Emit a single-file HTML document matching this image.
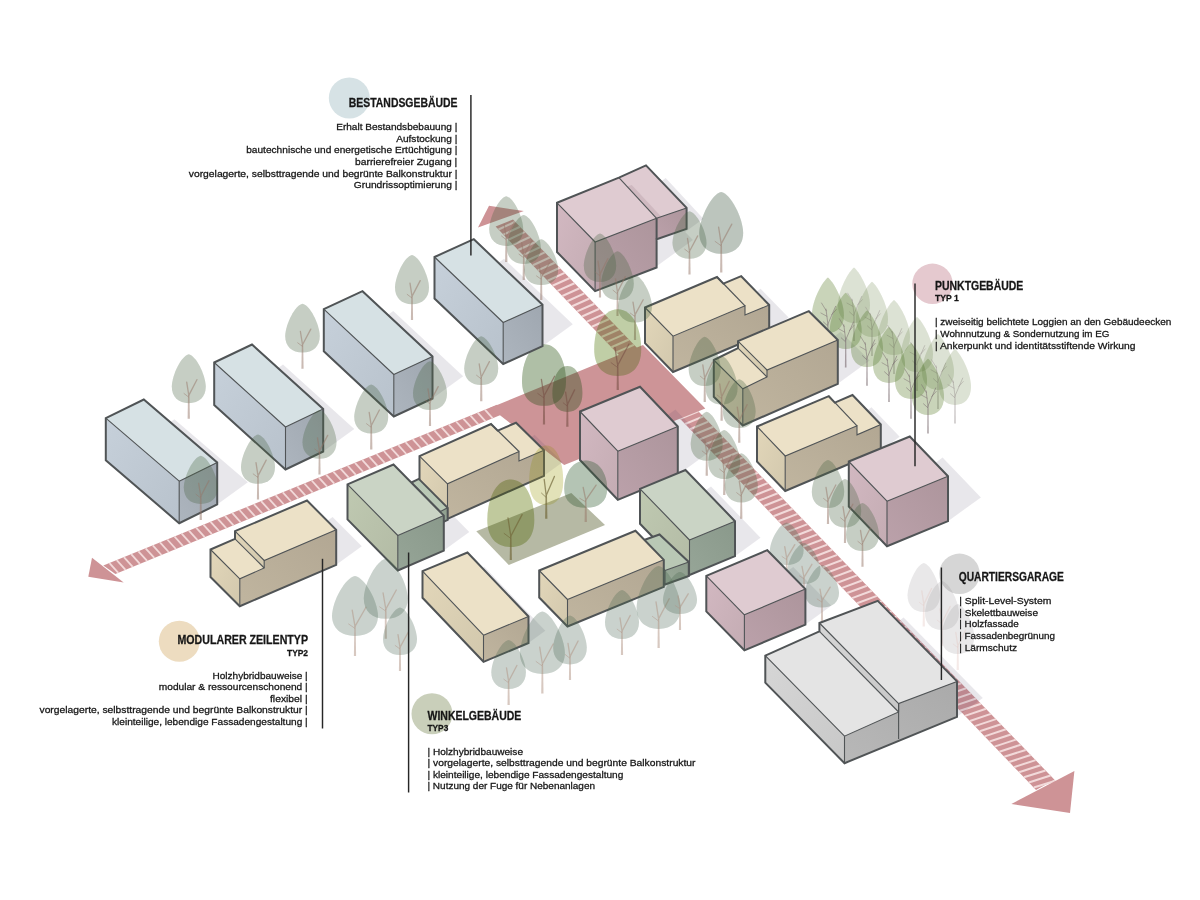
<!DOCTYPE html>
<html><head><meta charset="utf-8"><title>Axonometrie</title>
<style>html,body{margin:0;padding:0;background:#fff;}body{width:1200px;height:900px;overflow:hidden;}svg{display:block;}text{font-family:"Liberation Sans",sans-serif;fill:#161616;stroke:#161616;stroke-width:0.28px;}.t{font-weight:bold;font-size:12.6px;}.s{font-weight:bold;font-size:9.2px;}.b{font-size:9.8px;}</style></head><body>
<svg width="1200" height="900" viewBox="0 0 1200 900">
<rect width="1200" height="900" fill="#ffffff"/>
<defs>
<linearGradient id="gl-blue" x1="0" y1="0" x2="1" y2="1"><stop offset="0" stop-color="#c6d0da"/><stop offset="1" stop-color="#b8c2cc"/></linearGradient>
<linearGradient id="gr-blue" x1="0" y1="1" x2="1" y2="0"><stop offset="0" stop-color="#adb5be"/><stop offset="1" stop-color="#9fa7b0"/></linearGradient>
<linearGradient id="gl-pink" x1="0" y1="0" x2="1" y2="1"><stop offset="0" stop-color="#d2b8c1"/><stop offset="1" stop-color="#c4acb3"/></linearGradient>
<linearGradient id="gr-pink" x1="0" y1="1" x2="1" y2="0"><stop offset="0" stop-color="#bba1aa"/><stop offset="1" stop-color="#ad959c"/></linearGradient>
<linearGradient id="gl-beige" x1="0" y1="0" x2="1" y2="1"><stop offset="0" stop-color="#e2d6b9"/><stop offset="1" stop-color="#d2c8ad"/></linearGradient>
<linearGradient id="gr-beige" x1="0" y1="1" x2="1" y2="0"><stop offset="0" stop-color="#c0b59f"/><stop offset="1" stop-color="#b2a793"/></linearGradient>
<linearGradient id="gl-green" x1="0" y1="0" x2="1" y2="1"><stop offset="0" stop-color="#bfc9b1"/><stop offset="1" stop-color="#b3bba5"/></linearGradient>
<linearGradient id="gr-green" x1="0" y1="1" x2="1" y2="0"><stop offset="0" stop-color="#96a597"/><stop offset="1" stop-color="#8a998b"/></linearGradient>
<linearGradient id="gl-conn" x1="0" y1="0" x2="1" y2="1"><stop offset="0" stop-color="#afbeab"/><stop offset="1" stop-color="#a3b29f"/></linearGradient>
<linearGradient id="gr-conn" x1="0" y1="1" x2="1" y2="0"><stop offset="0" stop-color="#99aa98"/><stop offset="1" stop-color="#8d9c8c"/></linearGradient>
<linearGradient id="gl-gray" x1="0" y1="0" x2="1" y2="1"><stop offset="0" stop-color="#d6d6d6"/><stop offset="1" stop-color="#c8c8c8"/></linearGradient>
<linearGradient id="gr-gray" x1="0" y1="1" x2="1" y2="0"><stop offset="0" stop-color="#b8b8b8"/><stop offset="1" stop-color="#aaaaaa"/></linearGradient>
</defs>
<circle cx="349.3" cy="98" r="20.5" fill="#d6e2e5"/>
<circle cx="932.5" cy="283.8" r="20.2" fill="#e5c9cf"/>
<circle cx="179.3" cy="641.3" r="20.5" fill="#eddcc0"/>
<circle cx="432" cy="713.8" r="20.5" fill="#c9cfba"/>
<circle cx="959.5" cy="573.8" r="20.2" fill="#d6d6d6"/>
<polygon points="495.6,226.5 513.0,219.5 1054.5,779.7 1036.0,789.9" fill="#ce9396"/>
<line x1="498.5" y1="229.5" x2="515.1" y2="221.7" stroke="#f2dada" stroke-width="2.05"/>
<line x1="503.4" y1="234.6" x2="520.1" y2="226.8" stroke="#f2dada" stroke-width="2.05"/>
<line x1="508.3" y1="239.7" x2="525.0" y2="231.9" stroke="#f2dada" stroke-width="2.05"/>
<line x1="513.2" y1="244.8" x2="530.0" y2="237.0" stroke="#f2dada" stroke-width="2.05"/>
<line x1="518.1" y1="250.0" x2="534.9" y2="242.2" stroke="#f2dada" stroke-width="2.05"/>
<line x1="523.0" y1="255.1" x2="539.9" y2="247.3" stroke="#f2dada" stroke-width="2.05"/>
<line x1="527.9" y1="260.2" x2="544.8" y2="252.4" stroke="#f2dada" stroke-width="2.05"/>
<line x1="532.9" y1="265.3" x2="549.8" y2="257.5" stroke="#f2dada" stroke-width="2.05"/>
<line x1="537.8" y1="270.4" x2="554.7" y2="262.7" stroke="#f2dada" stroke-width="2.05"/>
<line x1="542.7" y1="275.6" x2="559.7" y2="267.8" stroke="#f2dada" stroke-width="2.05"/>
<line x1="547.6" y1="280.7" x2="564.6" y2="272.9" stroke="#f2dada" stroke-width="2.05"/>
<line x1="552.5" y1="285.8" x2="569.6" y2="278.0" stroke="#f2dada" stroke-width="2.05"/>
<line x1="557.4" y1="290.9" x2="574.5" y2="283.2" stroke="#f2dada" stroke-width="2.05"/>
<line x1="562.3" y1="296.0" x2="579.5" y2="288.3" stroke="#f2dada" stroke-width="2.05"/>
<line x1="567.2" y1="301.2" x2="584.4" y2="293.4" stroke="#f2dada" stroke-width="2.05"/>
<line x1="572.1" y1="306.3" x2="589.4" y2="298.5" stroke="#f2dada" stroke-width="2.05"/>
<line x1="577.1" y1="311.4" x2="594.4" y2="303.7" stroke="#f2dada" stroke-width="2.05"/>
<line x1="582.0" y1="316.5" x2="599.3" y2="308.8" stroke="#f2dada" stroke-width="2.05"/>
<line x1="586.9" y1="321.6" x2="604.3" y2="313.9" stroke="#f2dada" stroke-width="2.05"/>
<line x1="591.8" y1="326.8" x2="609.2" y2="319.0" stroke="#f2dada" stroke-width="2.05"/>
<line x1="596.7" y1="331.9" x2="614.2" y2="324.2" stroke="#f2dada" stroke-width="2.05"/>
<line x1="601.6" y1="337.0" x2="619.1" y2="329.3" stroke="#f2dada" stroke-width="2.05"/>
<line x1="606.5" y1="342.1" x2="624.1" y2="334.4" stroke="#f2dada" stroke-width="2.05"/>
<line x1="611.4" y1="347.2" x2="629.0" y2="339.5" stroke="#f2dada" stroke-width="2.05"/>
<line x1="616.3" y1="352.4" x2="634.0" y2="344.7" stroke="#f2dada" stroke-width="2.05"/>
<line x1="621.2" y1="357.5" x2="638.9" y2="349.8" stroke="#f2dada" stroke-width="2.05"/>
<line x1="626.2" y1="362.6" x2="643.9" y2="354.9" stroke="#f2dada" stroke-width="2.05"/>
<line x1="631.1" y1="367.7" x2="648.9" y2="360.0" stroke="#f2dada" stroke-width="2.05"/>
<line x1="636.0" y1="372.8" x2="653.8" y2="365.2" stroke="#f2dada" stroke-width="2.05"/>
<line x1="640.9" y1="378.0" x2="658.8" y2="370.3" stroke="#f2dada" stroke-width="2.05"/>
<line x1="645.8" y1="383.1" x2="663.7" y2="375.4" stroke="#f2dada" stroke-width="2.05"/>
<line x1="650.7" y1="388.2" x2="668.7" y2="380.5" stroke="#f2dada" stroke-width="2.05"/>
<line x1="655.6" y1="393.3" x2="673.6" y2="385.7" stroke="#f2dada" stroke-width="2.05"/>
<line x1="660.5" y1="398.4" x2="678.6" y2="390.8" stroke="#f2dada" stroke-width="2.05"/>
<line x1="665.4" y1="403.6" x2="683.5" y2="395.9" stroke="#f2dada" stroke-width="2.05"/>
<line x1="670.4" y1="408.7" x2="688.5" y2="401.1" stroke="#f2dada" stroke-width="2.05"/>
<line x1="675.3" y1="413.8" x2="693.4" y2="406.2" stroke="#f2dada" stroke-width="2.05"/>
<line x1="680.2" y1="418.9" x2="698.4" y2="411.3" stroke="#f2dada" stroke-width="2.05"/>
<line x1="685.1" y1="424.0" x2="703.4" y2="416.4" stroke="#f2dada" stroke-width="2.05"/>
<line x1="690.0" y1="429.2" x2="708.3" y2="421.6" stroke="#f2dada" stroke-width="2.05"/>
<line x1="694.9" y1="434.3" x2="713.3" y2="426.7" stroke="#f2dada" stroke-width="2.05"/>
<line x1="699.8" y1="439.4" x2="718.2" y2="431.8" stroke="#f2dada" stroke-width="2.05"/>
<line x1="704.7" y1="444.5" x2="723.2" y2="436.9" stroke="#f2dada" stroke-width="2.05"/>
<line x1="709.6" y1="449.6" x2="728.1" y2="442.1" stroke="#f2dada" stroke-width="2.05"/>
<line x1="714.6" y1="454.8" x2="733.1" y2="447.2" stroke="#f2dada" stroke-width="2.05"/>
<line x1="719.5" y1="459.9" x2="738.1" y2="452.3" stroke="#f2dada" stroke-width="2.05"/>
<line x1="724.4" y1="465.0" x2="743.0" y2="457.4" stroke="#f2dada" stroke-width="2.05"/>
<line x1="729.3" y1="470.1" x2="748.0" y2="462.6" stroke="#f2dada" stroke-width="2.05"/>
<line x1="734.2" y1="475.2" x2="752.9" y2="467.7" stroke="#f2dada" stroke-width="2.05"/>
<line x1="739.1" y1="480.4" x2="757.9" y2="472.8" stroke="#f2dada" stroke-width="2.05"/>
<line x1="744.0" y1="485.5" x2="762.8" y2="478.0" stroke="#f2dada" stroke-width="2.05"/>
<line x1="748.9" y1="490.6" x2="767.8" y2="483.1" stroke="#f2dada" stroke-width="2.05"/>
<line x1="753.8" y1="495.7" x2="772.7" y2="488.2" stroke="#f2dada" stroke-width="2.05"/>
<line x1="758.7" y1="500.8" x2="777.7" y2="493.3" stroke="#f2dada" stroke-width="2.05"/>
<line x1="763.7" y1="506.0" x2="782.7" y2="498.5" stroke="#f2dada" stroke-width="2.05"/>
<line x1="768.6" y1="511.1" x2="787.6" y2="503.6" stroke="#f2dada" stroke-width="2.05"/>
<line x1="773.5" y1="516.2" x2="792.6" y2="508.7" stroke="#f2dada" stroke-width="2.05"/>
<line x1="778.4" y1="521.3" x2="797.5" y2="513.9" stroke="#f2dada" stroke-width="2.05"/>
<line x1="783.3" y1="526.4" x2="802.5" y2="519.0" stroke="#f2dada" stroke-width="2.05"/>
<line x1="788.2" y1="531.6" x2="807.5" y2="524.1" stroke="#f2dada" stroke-width="2.05"/>
<line x1="793.1" y1="536.7" x2="812.4" y2="529.2" stroke="#f2dada" stroke-width="2.05"/>
<line x1="798.0" y1="541.8" x2="817.4" y2="534.4" stroke="#f2dada" stroke-width="2.05"/>
<line x1="802.9" y1="546.9" x2="822.3" y2="539.5" stroke="#f2dada" stroke-width="2.05"/>
<line x1="807.9" y1="552.0" x2="827.3" y2="544.6" stroke="#f2dada" stroke-width="2.05"/>
<line x1="812.8" y1="557.2" x2="832.2" y2="549.8" stroke="#f2dada" stroke-width="2.05"/>
<line x1="817.7" y1="562.3" x2="837.2" y2="554.9" stroke="#f2dada" stroke-width="2.05"/>
<line x1="822.6" y1="567.4" x2="842.2" y2="560.0" stroke="#f2dada" stroke-width="2.05"/>
<line x1="827.5" y1="572.5" x2="847.1" y2="565.1" stroke="#f2dada" stroke-width="2.05"/>
<line x1="832.4" y1="577.6" x2="852.1" y2="570.3" stroke="#f2dada" stroke-width="2.05"/>
<line x1="837.3" y1="582.8" x2="857.0" y2="575.4" stroke="#f2dada" stroke-width="2.05"/>
<line x1="842.2" y1="587.9" x2="862.0" y2="580.5" stroke="#f2dada" stroke-width="2.05"/>
<line x1="847.1" y1="593.0" x2="866.9" y2="585.7" stroke="#f2dada" stroke-width="2.05"/>
<line x1="852.1" y1="598.1" x2="871.9" y2="590.8" stroke="#f2dada" stroke-width="2.05"/>
<line x1="857.0" y1="603.2" x2="876.9" y2="595.9" stroke="#f2dada" stroke-width="2.05"/>
<line x1="861.9" y1="608.4" x2="881.8" y2="601.1" stroke="#f2dada" stroke-width="2.05"/>
<line x1="866.8" y1="613.5" x2="886.8" y2="606.2" stroke="#f2dada" stroke-width="2.05"/>
<line x1="871.7" y1="618.6" x2="891.7" y2="611.3" stroke="#f2dada" stroke-width="2.05"/>
<line x1="876.6" y1="623.7" x2="896.7" y2="616.4" stroke="#f2dada" stroke-width="2.05"/>
<line x1="881.5" y1="628.8" x2="901.7" y2="621.6" stroke="#f2dada" stroke-width="2.05"/>
<line x1="886.4" y1="634.0" x2="906.6" y2="626.7" stroke="#f2dada" stroke-width="2.05"/>
<line x1="891.3" y1="639.1" x2="911.6" y2="631.8" stroke="#f2dada" stroke-width="2.05"/>
<line x1="896.3" y1="644.2" x2="916.5" y2="637.0" stroke="#f2dada" stroke-width="2.05"/>
<line x1="901.2" y1="649.3" x2="921.5" y2="642.1" stroke="#f2dada" stroke-width="2.05"/>
<line x1="906.1" y1="654.4" x2="926.5" y2="647.2" stroke="#f2dada" stroke-width="2.05"/>
<line x1="911.0" y1="659.6" x2="931.4" y2="652.4" stroke="#f2dada" stroke-width="2.05"/>
<line x1="915.9" y1="664.7" x2="936.4" y2="657.5" stroke="#f2dada" stroke-width="2.05"/>
<line x1="920.8" y1="669.8" x2="941.3" y2="662.6" stroke="#f2dada" stroke-width="2.05"/>
<line x1="925.7" y1="674.9" x2="946.3" y2="667.8" stroke="#f2dada" stroke-width="2.05"/>
<line x1="930.6" y1="680.0" x2="951.3" y2="672.9" stroke="#f2dada" stroke-width="2.05"/>
<line x1="935.5" y1="685.2" x2="956.2" y2="678.0" stroke="#f2dada" stroke-width="2.05"/>
<line x1="940.4" y1="690.3" x2="961.2" y2="683.2" stroke="#f2dada" stroke-width="2.05"/>
<line x1="945.4" y1="695.4" x2="966.1" y2="688.3" stroke="#f2dada" stroke-width="2.05"/>
<line x1="950.3" y1="700.5" x2="971.1" y2="693.4" stroke="#f2dada" stroke-width="2.05"/>
<line x1="955.2" y1="705.6" x2="976.1" y2="698.5" stroke="#f2dada" stroke-width="2.05"/>
<line x1="960.1" y1="710.8" x2="981.0" y2="703.7" stroke="#f2dada" stroke-width="2.05"/>
<line x1="965.0" y1="715.9" x2="986.0" y2="708.8" stroke="#f2dada" stroke-width="2.05"/>
<line x1="969.9" y1="721.0" x2="990.9" y2="713.9" stroke="#f2dada" stroke-width="2.05"/>
<line x1="974.8" y1="726.1" x2="995.9" y2="719.1" stroke="#f2dada" stroke-width="2.05"/>
<line x1="979.7" y1="731.2" x2="1000.9" y2="724.2" stroke="#f2dada" stroke-width="2.05"/>
<line x1="984.6" y1="736.4" x2="1005.8" y2="729.3" stroke="#f2dada" stroke-width="2.05"/>
<line x1="989.6" y1="741.5" x2="1010.8" y2="734.5" stroke="#f2dada" stroke-width="2.05"/>
<line x1="994.5" y1="746.6" x2="1015.8" y2="739.6" stroke="#f2dada" stroke-width="2.05"/>
<line x1="999.4" y1="751.7" x2="1020.7" y2="744.7" stroke="#f2dada" stroke-width="2.05"/>
<line x1="1004.3" y1="756.8" x2="1025.7" y2="749.9" stroke="#f2dada" stroke-width="2.05"/>
<line x1="1009.2" y1="762.0" x2="1030.6" y2="755.0" stroke="#f2dada" stroke-width="2.05"/>
<line x1="1014.1" y1="767.1" x2="1035.6" y2="760.1" stroke="#f2dada" stroke-width="2.05"/>
<line x1="1019.0" y1="772.2" x2="1040.6" y2="765.3" stroke="#f2dada" stroke-width="2.05"/>
<line x1="1023.9" y1="777.3" x2="1045.5" y2="770.4" stroke="#f2dada" stroke-width="2.05"/>
<line x1="1028.8" y1="782.4" x2="1050.5" y2="775.5" stroke="#f2dada" stroke-width="2.05"/>
<line x1="1033.8" y1="787.6" x2="1055.5" y2="780.7" stroke="#f2dada" stroke-width="2.05"/>
<polygon points="103.3,565.6 497.0,404.8 506.0,412.8 115.4,574.0" fill="#ce9396"/>
<line x1="109.5" y1="563.1" x2="118.3" y2="572.8" stroke="#f2dada" stroke-width="1.8"/>
<line x1="116.7" y1="560.1" x2="125.5" y2="569.8" stroke="#f2dada" stroke-width="1.8"/>
<line x1="123.9" y1="557.2" x2="132.7" y2="566.8" stroke="#f2dada" stroke-width="1.8"/>
<line x1="131.2" y1="554.2" x2="139.9" y2="563.9" stroke="#f2dada" stroke-width="1.8"/>
<line x1="138.4" y1="551.3" x2="147.1" y2="560.9" stroke="#f2dada" stroke-width="1.8"/>
<line x1="145.6" y1="548.3" x2="154.3" y2="557.9" stroke="#f2dada" stroke-width="1.8"/>
<line x1="152.8" y1="545.4" x2="161.5" y2="555.0" stroke="#f2dada" stroke-width="1.8"/>
<line x1="160.0" y1="542.4" x2="168.7" y2="552.0" stroke="#f2dada" stroke-width="1.8"/>
<line x1="167.3" y1="539.5" x2="175.9" y2="549.0" stroke="#f2dada" stroke-width="1.8"/>
<line x1="174.5" y1="536.5" x2="183.1" y2="546.1" stroke="#f2dada" stroke-width="1.8"/>
<line x1="181.7" y1="533.6" x2="190.3" y2="543.1" stroke="#f2dada" stroke-width="1.8"/>
<line x1="188.9" y1="530.6" x2="197.5" y2="540.1" stroke="#f2dada" stroke-width="1.8"/>
<line x1="196.1" y1="527.7" x2="204.7" y2="537.1" stroke="#f2dada" stroke-width="1.8"/>
<line x1="203.4" y1="524.7" x2="211.9" y2="534.2" stroke="#f2dada" stroke-width="1.8"/>
<line x1="210.6" y1="521.8" x2="219.1" y2="531.2" stroke="#f2dada" stroke-width="1.8"/>
<line x1="217.8" y1="518.8" x2="226.3" y2="528.2" stroke="#f2dada" stroke-width="1.8"/>
<line x1="225.0" y1="515.9" x2="233.5" y2="525.3" stroke="#f2dada" stroke-width="1.8"/>
<line x1="232.2" y1="512.9" x2="240.7" y2="522.3" stroke="#f2dada" stroke-width="1.8"/>
<line x1="239.5" y1="510.0" x2="247.9" y2="519.3" stroke="#f2dada" stroke-width="1.8"/>
<line x1="246.7" y1="507.0" x2="255.1" y2="516.3" stroke="#f2dada" stroke-width="1.8"/>
<line x1="253.9" y1="504.1" x2="262.3" y2="513.4" stroke="#f2dada" stroke-width="1.8"/>
<line x1="261.1" y1="501.1" x2="269.5" y2="510.4" stroke="#f2dada" stroke-width="1.8"/>
<line x1="268.3" y1="498.2" x2="276.7" y2="507.4" stroke="#f2dada" stroke-width="1.8"/>
<line x1="275.6" y1="495.2" x2="283.9" y2="504.5" stroke="#f2dada" stroke-width="1.8"/>
<line x1="282.8" y1="492.3" x2="291.1" y2="501.5" stroke="#f2dada" stroke-width="1.8"/>
<line x1="290.0" y1="489.4" x2="298.3" y2="498.5" stroke="#f2dada" stroke-width="1.8"/>
<line x1="297.2" y1="486.4" x2="305.5" y2="495.6" stroke="#f2dada" stroke-width="1.8"/>
<line x1="304.4" y1="483.5" x2="312.7" y2="492.6" stroke="#f2dada" stroke-width="1.8"/>
<line x1="311.7" y1="480.5" x2="319.9" y2="489.6" stroke="#f2dada" stroke-width="1.8"/>
<line x1="318.9" y1="477.6" x2="327.1" y2="486.6" stroke="#f2dada" stroke-width="1.8"/>
<line x1="326.1" y1="474.6" x2="334.3" y2="483.7" stroke="#f2dada" stroke-width="1.8"/>
<line x1="333.3" y1="471.7" x2="341.5" y2="480.7" stroke="#f2dada" stroke-width="1.8"/>
<line x1="340.5" y1="468.7" x2="348.7" y2="477.7" stroke="#f2dada" stroke-width="1.8"/>
<line x1="347.8" y1="465.8" x2="355.9" y2="474.8" stroke="#f2dada" stroke-width="1.8"/>
<line x1="355.0" y1="462.8" x2="363.1" y2="471.8" stroke="#f2dada" stroke-width="1.8"/>
<line x1="362.2" y1="459.9" x2="370.3" y2="468.8" stroke="#f2dada" stroke-width="1.8"/>
<line x1="369.4" y1="456.9" x2="377.5" y2="465.8" stroke="#f2dada" stroke-width="1.8"/>
<line x1="376.6" y1="454.0" x2="384.7" y2="462.9" stroke="#f2dada" stroke-width="1.8"/>
<line x1="383.9" y1="451.0" x2="391.9" y2="459.9" stroke="#f2dada" stroke-width="1.8"/>
<line x1="391.1" y1="448.1" x2="399.1" y2="456.9" stroke="#f2dada" stroke-width="1.8"/>
<line x1="398.3" y1="445.1" x2="406.3" y2="454.0" stroke="#f2dada" stroke-width="1.8"/>
<line x1="405.5" y1="442.2" x2="413.5" y2="451.0" stroke="#f2dada" stroke-width="1.8"/>
<line x1="412.7" y1="439.2" x2="420.7" y2="448.0" stroke="#f2dada" stroke-width="1.8"/>
<line x1="420.0" y1="436.3" x2="427.9" y2="445.0" stroke="#f2dada" stroke-width="1.8"/>
<line x1="427.2" y1="433.3" x2="435.1" y2="442.1" stroke="#f2dada" stroke-width="1.8"/>
<line x1="434.4" y1="430.4" x2="442.3" y2="439.1" stroke="#f2dada" stroke-width="1.8"/>
<line x1="441.6" y1="427.4" x2="449.5" y2="436.1" stroke="#f2dada" stroke-width="1.8"/>
<line x1="448.8" y1="424.5" x2="456.7" y2="433.2" stroke="#f2dada" stroke-width="1.8"/>
<line x1="456.1" y1="421.5" x2="463.9" y2="430.2" stroke="#f2dada" stroke-width="1.8"/>
<line x1="463.3" y1="418.6" x2="471.1" y2="427.2" stroke="#f2dada" stroke-width="1.8"/>
<line x1="470.5" y1="415.6" x2="478.3" y2="424.3" stroke="#f2dada" stroke-width="1.8"/>
<line x1="477.7" y1="412.7" x2="485.5" y2="421.3" stroke="#f2dada" stroke-width="1.8"/>
<line x1="484.9" y1="409.7" x2="492.7" y2="418.3" stroke="#f2dada" stroke-width="1.8"/>
<polygon points="88.3,576.7 92.0,557.8 123.7,582.5" fill="#ce9396"/>
<polygon points="478.0,227.6 489.0,205.8 523.8,211.1" fill="#ce9396"/>
<polygon points="1070.0,813.0 1074.4,771.0 1011.4,804.0" fill="#ce9396"/>
<polygon points="489.2,408.3 643.0,345.0 705.3,408.5 564.2,465.0 500.0,415.3" fill="#cd9497"/>
<polygon points="476.3,531.3 571.3,493.0 605.0,525.0 508.8,565.0" fill="#b6b9a4"/>
<g opacity="0.115">
<polygon points="105.8,460.2 143.8,441.5 174.4,419.2 247.9,482.2 217.2,504.5 179.2,523.2" fill="#43355c"/>
<polygon points="214.2,405.0 252.0,387.0 283.0,364.5 354.3,429.0 323.2,451.5 285.5,469.5" fill="#43355c"/>
<polygon points="323.8,351.2 362.5,333.2 393.2,311.0 463.2,376.2 432.5,398.5 393.8,416.5" fill="#43355c"/>
<polygon points="434.5,298.5 473.8,280.8 504.0,258.8 572.8,324.3 542.5,346.2 503.2,364.0" fill="#43355c"/>
<polygon points="618.9,204.6 646.0,192.4 665.7,178.1 703.4,218.8 683.7,233.1 656.6,245.3" fill="#43355c"/>
<polygon points="557.0,252.0 618.9,226.8 654.8,200.7 692.9,239.9 657.0,266.0 595.1,291.2" fill="#43355c"/>
<polygon points="645.0,343.2 717.0,312.8 743.1,293.8 771.1,322.6 745.0,341.5 673.0,372.0" fill="#43355c"/>
<polygon points="717.0,312.8 741.2,302.8 760.6,288.7 788.6,317.5 769.2,331.5 745.0,341.5" fill="#43355c"/>
<polygon points="738.0,385.0 808.8,355.0 840.7,331.8 869.7,360.6 837.8,383.8 767.0,413.8" fill="#43355c"/>
<polygon points="713.8,396.8 738.0,385.0 764.8,365.5 793.8,394.3 767.0,413.8 742.8,425.5" fill="#43355c"/>
<polygon points="757.0,461.5 828.8,431.2 854.3,412.7 882.5,442.2 857.0,460.8 785.2,491.0" fill="#43355c"/>
<polygon points="828.8,431.2 852.5,421.0 871.5,407.2 899.7,436.7 880.8,450.5 857.0,460.8" fill="#43355c"/>
<polygon points="848.8,506.5 909.8,481.5 942.6,457.6 980.9,497.4 948.0,521.2 887.0,546.2" fill="#43355c"/>
<polygon points="580.0,460.0 640.0,435.3 675.4,409.6 713.2,449.3 677.8,475.0 617.8,499.8" fill="#43355c"/>
<polygon points="640.0,523.8 685.5,505.0 711.0,486.4 760.5,537.7 735.0,556.2 689.5,575.0" fill="#43355c"/>
<polygon points="539.2,597.5 635.5,557.8 655.2,543.4 683.5,572.4 663.8,586.8 567.5,626.5" fill="#43355c"/>
<polygon points="706.3,611.4 767.3,585.7 793.2,566.9 831.3,605.8 805.4,624.6 744.4,650.3" fill="#43355c"/>
<polygon points="419.5,491.2 491.0,459.0 516.5,440.4 544.5,467.9 519.0,486.5 447.5,518.8" fill="#43355c"/>
<polygon points="491.0,459.0 516.0,448.2 534.6,434.7 562.6,462.2 544.0,475.8 519.0,486.5" fill="#43355c"/>
<polygon points="347.5,519.4 393.5,499.5 419.1,480.9 469.3,532.1 443.8,550.6 397.8,570.5" fill="#43355c"/>
<polygon points="422.5,597.8 467.5,579.0 484.3,566.8 545.3,630.8 528.5,643.0 483.5,661.8" fill="#43355c"/>
<polygon points="235.0,566.2 307.0,535.5 332.6,517.0 361.8,546.2 336.2,564.8 264.2,595.5" fill="#43355c"/>
<polygon points="210.5,577.0 235.0,566.2 255.1,551.7 284.3,580.9 264.2,595.5 239.8,606.2" fill="#43355c"/>
<polygon points="819.4,658.4 877.8,636.2 903.6,617.4 982.8,698.0 957.0,716.8 898.6,739.0" fill="#43355c"/>
<polygon points="765.3,682.6 819.4,658.4 839.1,644.1 918.3,724.7 898.6,739.0 844.5,763.2" fill="#43355c"/>
</g>
<path d="M188.8,354.2 C195.9,355.5 205.4,374.3 205.8,386.6 C205.8,396.9 199.3,403.2 188.8,403.2 C178.2,403.2 171.8,396.9 171.8,386.6 C172.1,374.3 181.6,355.5 188.8,354.2Z" fill="rgb(220,221,220)" style="mix-blend-mode:multiply"/>
<path d="M188.8,354.2 C195.9,355.5 205.4,374.3 205.8,386.6 C205.8,396.9 199.3,403.2 188.8,403.2 C178.2,403.2 171.8,396.9 171.8,386.6 C172.1,374.3 181.6,355.5 188.8,354.2Z" fill="rgba(110,150,100,0.20)"/>
<polygon points="187.6,418.8 189.9,418.8 189.5,395.4 188.0,395.4" fill="rgba(150,118,104,0.5)"/>
<path d="M188.8,395.4 L186.7,382.2 M188.8,395.4 L196.9,379.7" stroke="rgba(150,118,104,0.5)" stroke-width="1.3" fill="none" stroke-linecap="round"/>
<path d="M188.4,396.9 L184.0,393.5" stroke="rgba(150,118,104,0.5)" stroke-width="0.9" fill="none" stroke-linecap="round"/>
<path d="M302.5,303.8 C309.7,305.0 319.4,323.7 319.8,335.9 C319.8,346.2 313.2,352.5 302.5,352.5 C291.8,352.5 285.2,346.2 285.2,335.9 C285.6,323.7 295.3,305.0 302.5,303.8Z" fill="rgb(220,221,220)" style="mix-blend-mode:multiply"/>
<path d="M302.5,303.8 C309.7,305.0 319.4,323.7 319.8,335.9 C319.8,346.2 313.2,352.5 302.5,352.5 C291.8,352.5 285.2,346.2 285.2,335.9 C285.6,323.7 295.3,305.0 302.5,303.8Z" fill="rgba(110,150,100,0.20)"/>
<polygon points="301.4,368.8 303.6,368.8 303.2,344.7 301.8,344.7" fill="rgba(150,118,104,0.5)"/>
<path d="M302.5,344.7 L300.4,331.5 M302.5,344.7 L310.8,329.1" stroke="rgba(150,118,104,0.5)" stroke-width="1.3" fill="none" stroke-linecap="round"/>
<path d="M302.2,346.2 L297.7,342.8" stroke="rgba(150,118,104,0.5)" stroke-width="0.9" fill="none" stroke-linecap="round"/>
<path d="M412.0,255.0 C419.1,256.2 428.7,275.2 429.0,287.5 C429.0,297.8 422.5,304.2 412.0,304.2 C401.5,304.2 395.0,297.8 395.0,287.5 C395.3,275.2 404.9,256.2 412.0,255.0Z" fill="rgb(220,221,220)" style="mix-blend-mode:multiply"/>
<path d="M412.0,255.0 C419.1,256.2 428.7,275.2 429.0,287.5 C429.0,297.8 422.5,304.2 412.0,304.2 C401.5,304.2 395.0,297.8 395.0,287.5 C395.3,275.2 404.9,256.2 412.0,255.0Z" fill="rgba(110,150,100,0.20)"/>
<polygon points="410.9,320.0 413.1,320.0 412.7,296.4 411.3,296.4" fill="rgba(150,118,104,0.5)"/>
<path d="M412.0,296.4 L410.0,283.1 M412.0,296.4 L420.2,280.6" stroke="rgba(150,118,104,0.5)" stroke-width="1.3" fill="none" stroke-linecap="round"/>
<path d="M411.7,297.8 L407.2,294.4" stroke="rgba(150,118,104,0.5)" stroke-width="0.9" fill="none" stroke-linecap="round"/>
<path d="M506.2,196.2 C513.4,197.5 522.9,216.6 523.2,229.1 C523.2,239.5 516.8,246.0 506.2,246.0 C495.7,246.0 489.2,239.5 489.2,229.1 C489.6,216.6 499.1,197.5 506.2,196.2Z" fill="rgb(220,221,220)" style="mix-blend-mode:multiply"/>
<path d="M506.2,196.2 C513.4,197.5 522.9,216.6 523.2,229.1 C523.2,239.5 516.8,246.0 506.2,246.0 C495.7,246.0 489.2,239.5 489.2,229.1 C489.6,216.6 499.1,197.5 506.2,196.2Z" fill="rgba(110,150,100,0.20)"/>
<polygon points="505.1,262.0 507.4,262.0 507.0,238.0 505.5,238.0" fill="rgba(150,118,104,0.5)"/>
<path d="M506.2,238.0 L504.2,224.6 M506.2,238.0 L514.4,222.1" stroke="rgba(150,118,104,0.5)" stroke-width="1.3" fill="none" stroke-linecap="round"/>
<path d="M505.9,239.5 L501.5,236.0" stroke="rgba(150,118,104,0.5)" stroke-width="0.9" fill="none" stroke-linecap="round"/>
<path d="M523.8,215.0 C530.9,216.2 540.4,235.1 540.8,247.3 C540.8,257.6 534.3,264.0 523.8,264.0 C513.2,264.0 506.8,257.6 506.8,247.3 C507.1,235.1 516.6,216.2 523.8,215.0Z" fill="rgb(220,221,220)" style="mix-blend-mode:multiply"/>
<path d="M523.8,215.0 C530.9,216.2 540.4,235.1 540.8,247.3 C540.8,257.6 534.3,264.0 523.8,264.0 C513.2,264.0 506.8,257.6 506.8,247.3 C507.1,235.1 516.6,216.2 523.8,215.0Z" fill="rgba(110,150,100,0.20)"/>
<polygon points="522.6,280.0 524.9,280.0 524.5,256.2 523.0,256.2" fill="rgba(150,118,104,0.5)"/>
<path d="M523.8,256.2 L521.7,242.9 M523.8,256.2 L531.9,240.5" stroke="rgba(150,118,104,0.5)" stroke-width="1.3" fill="none" stroke-linecap="round"/>
<path d="M523.5,257.6 L519.0,254.2" stroke="rgba(150,118,104,0.5)" stroke-width="0.9" fill="none" stroke-linecap="round"/>
<path d="M541.2,239.2 C548.4,240.4 557.9,258.0 558.2,269.4 C558.2,279.1 551.8,285.0 541.2,285.0 C530.7,285.0 524.2,279.1 524.2,269.4 C524.6,258.0 534.1,240.4 541.2,239.2Z" fill="rgb(220,221,220)" style="mix-blend-mode:multiply"/>
<path d="M541.2,239.2 C548.4,240.4 557.9,258.0 558.2,269.4 C558.2,279.1 551.8,285.0 541.2,285.0 C530.7,285.0 524.2,279.1 524.2,269.4 C524.6,258.0 534.1,240.4 541.2,239.2Z" fill="rgba(110,150,100,0.20)"/>
<polygon points="540.1,300.0 542.4,300.0 542.0,277.7 540.5,277.7" fill="rgba(150,118,104,0.5)"/>
<path d="M541.2,277.7 L539.2,265.3 M541.2,277.7 L549.4,263.0" stroke="rgba(150,118,104,0.5)" stroke-width="1.3" fill="none" stroke-linecap="round"/>
<path d="M541.0,279.1 L536.5,275.9" stroke="rgba(150,118,104,0.5)" stroke-width="0.9" fill="none" stroke-linecap="round"/>
<path d="M544.0,344.3 C558.5,344.3 566.0,362.8 566.0,381.2 C566.0,397.2 557.6,405.8 544.0,405.8 C530.4,405.8 522.0,397.2 522.0,381.2 C522.0,362.8 529.5,344.3 544.0,344.3Z" fill="rgb(196,205,189)" style="mix-blend-mode:multiply"/>
<path d="M544.0,344.3 C558.5,344.3 566.0,362.8 566.0,381.2 C566.0,397.2 557.6,405.8 544.0,405.8 C530.4,405.8 522.0,397.2 522.0,381.2 C522.0,362.8 529.5,344.3 544.0,344.3Z" fill="rgba(95,135,75,0.20)"/>
<polygon points="542.9,424.4 545.1,424.4 544.7,396.0 543.3,396.0" fill="rgba(120,80,70,0.6)"/>
<path d="M544.0,396.0 L541.4,379.4 M544.0,396.0 L554.6,376.3" stroke="rgba(120,80,70,0.6)" stroke-width="1.3" fill="none" stroke-linecap="round"/>
<path d="M543.7,397.8 L537.8,393.5" stroke="rgba(120,80,70,0.6)" stroke-width="0.9" fill="none" stroke-linecap="round"/>
<path d="M567.4,366.0 C577.3,366.0 582.4,379.8 582.4,393.6 C582.4,405.6 576.7,412.0 567.4,412.0 C558.1,412.0 552.4,405.6 552.4,393.6 C552.4,379.8 557.5,366.0 567.4,366.0Z" fill="rgb(196,205,189)" style="mix-blend-mode:multiply"/>
<path d="M567.4,366.0 C577.3,366.0 582.4,379.8 582.4,393.6 C582.4,405.6 576.7,412.0 567.4,412.0 C558.1,412.0 552.4,405.6 552.4,393.6 C552.4,379.8 557.5,366.0 567.4,366.0Z" fill="rgba(95,135,75,0.20)"/>
<polygon points="566.2,426.7 568.5,426.7 568.1,404.6 566.7,404.6" fill="rgba(120,80,70,0.6)"/>
<path d="M567.4,404.6 L565.6,392.2 M567.4,404.6 L574.6,389.9" stroke="rgba(120,80,70,0.6)" stroke-width="1.3" fill="none" stroke-linecap="round"/>
<path d="M567.1,406.0 L563.2,402.8" stroke="rgba(120,80,70,0.6)" stroke-width="0.9" fill="none" stroke-linecap="round"/>
<path d="M706.7,411.7 C713.4,412.9 722.4,431.8 722.7,444.1 C722.7,454.4 716.6,460.8 706.7,460.8 C696.8,460.8 690.7,454.4 690.7,444.1 C691.0,431.8 700.0,412.9 706.7,411.7Z" fill="rgb(220,221,220)" style="mix-blend-mode:multiply"/>
<path d="M706.7,411.7 C713.4,412.9 722.4,431.8 722.7,444.1 C722.7,454.4 716.6,460.8 706.7,460.8 C696.8,460.8 690.7,454.4 690.7,444.1 C691.0,431.8 700.0,412.9 706.7,411.7Z" fill="rgba(110,150,100,0.20)"/>
<polygon points="705.6,475.8 707.9,475.8 707.4,452.9 706.0,452.9" fill="rgba(150,118,104,0.5)"/>
<path d="M706.7,452.9 L704.8,439.7 M706.7,452.9 L714.4,437.2" stroke="rgba(150,118,104,0.5)" stroke-width="1.3" fill="none" stroke-linecap="round"/>
<path d="M706.4,454.4 L702.2,451.0" stroke="rgba(150,118,104,0.5)" stroke-width="0.9" fill="none" stroke-linecap="round"/>
<path d="M724.2,430.0 C730.9,431.2 739.9,450.1 740.2,462.3 C740.2,472.6 734.1,479.0 724.2,479.0 C714.3,479.0 708.2,472.6 708.2,462.3 C708.5,450.1 717.5,431.2 724.2,430.0Z" fill="rgb(220,221,220)" style="mix-blend-mode:multiply"/>
<path d="M724.2,430.0 C730.9,431.2 739.9,450.1 740.2,462.3 C740.2,472.6 734.1,479.0 724.2,479.0 C714.3,479.0 708.2,472.6 708.2,462.3 C708.5,450.1 717.5,431.2 724.2,430.0Z" fill="rgba(110,150,100,0.20)"/>
<polygon points="723.1,495.0 725.4,495.0 724.9,471.2 723.5,471.2" fill="rgba(150,118,104,0.5)"/>
<path d="M724.2,471.2 L722.3,457.9 M724.2,471.2 L731.9,455.5" stroke="rgba(150,118,104,0.5)" stroke-width="1.3" fill="none" stroke-linecap="round"/>
<path d="M723.9,472.6 L719.7,469.2" stroke="rgba(150,118,104,0.5)" stroke-width="0.9" fill="none" stroke-linecap="round"/>
<path d="M741.3,453.3 C748.2,454.5 757.5,473.5 757.8,485.8 C757.8,496.1 751.5,502.5 741.3,502.5 C731.1,502.5 724.8,496.1 724.8,485.8 C725.1,473.5 734.4,454.5 741.3,453.3Z" fill="rgb(220,221,220)" style="mix-blend-mode:multiply"/>
<path d="M741.3,453.3 C748.2,454.5 757.5,473.5 757.8,485.8 C757.8,496.1 751.5,502.5 741.3,502.5 C731.1,502.5 724.8,496.1 724.8,485.8 C725.1,473.5 734.4,454.5 741.3,453.3Z" fill="rgba(110,150,100,0.20)"/>
<polygon points="740.1,518.7 742.4,518.7 742.0,494.6 740.6,494.6" fill="rgba(150,118,104,0.5)"/>
<path d="M741.3,494.6 L739.3,481.3 M741.3,494.6 L749.2,478.9" stroke="rgba(150,118,104,0.5)" stroke-width="1.3" fill="none" stroke-linecap="round"/>
<path d="M741.0,496.1 L736.7,492.7" stroke="rgba(150,118,104,0.5)" stroke-width="0.9" fill="none" stroke-linecap="round"/>
<path d="M786.7,522.5 C793.8,523.6 803.2,539.9 803.6,550.5 C803.6,559.5 797.1,565.0 786.7,565.0 C776.3,565.0 769.9,559.5 769.9,550.5 C770.2,539.9 779.6,523.6 786.7,522.5Z" fill="rgb(225,226,230)" style="mix-blend-mode:multiply"/>
<path d="M786.7,522.5 C793.8,523.6 803.2,539.9 803.6,550.5 C803.6,559.5 797.1,565.0 786.7,565.0 C776.3,565.0 769.9,559.5 769.9,550.5 C770.2,539.9 779.6,523.6 786.7,522.5Z" fill="rgba(110,150,105,0.20)"/>
<polygon points="785.6,581.0 787.9,581.0 787.4,558.2 786.0,558.2" fill="rgba(175,145,130,0.5)"/>
<path d="M786.7,558.2 L784.7,546.7 M786.7,558.2 L794.8,544.6" stroke="rgba(175,145,130,0.5)" stroke-width="1.3" fill="none" stroke-linecap="round"/>
<path d="M786.4,559.5 L782.0,556.5" stroke="rgba(175,145,130,0.5)" stroke-width="0.9" fill="none" stroke-linecap="round"/>
<path d="M804.0,543.0 C810.9,544.0 820.2,559.8 820.5,570.1 C820.5,578.7 814.2,584.0 804.0,584.0 C793.8,584.0 787.5,578.7 787.5,570.1 C787.8,559.8 797.1,544.0 804.0,543.0Z" fill="rgb(225,226,230)" style="mix-blend-mode:multiply"/>
<path d="M804.0,543.0 C810.9,544.0 820.2,559.8 820.5,570.1 C820.5,578.7 814.2,584.0 804.0,584.0 C793.8,584.0 787.5,578.7 787.5,570.1 C787.8,559.8 797.1,544.0 804.0,543.0Z" fill="rgba(110,150,105,0.20)"/>
<polygon points="802.9,600.0 805.1,600.0 804.7,577.4 803.3,577.4" fill="rgba(175,145,130,0.5)"/>
<path d="M804.0,577.4 L802.0,566.4 M804.0,577.4 L811.9,564.3" stroke="rgba(175,145,130,0.5)" stroke-width="1.3" fill="none" stroke-linecap="round"/>
<path d="M803.7,578.7 L799.4,575.8" stroke="rgba(175,145,130,0.5)" stroke-width="0.9" fill="none" stroke-linecap="round"/>
<path d="M822.0,565.0 C829.1,566.1 838.7,582.4 839.0,593.0 C839.0,602.0 832.5,607.5 822.0,607.5 C811.5,607.5 805.0,602.0 805.0,593.0 C805.3,582.4 814.9,566.1 822.0,565.0Z" fill="rgb(225,226,230)" style="mix-blend-mode:multiply"/>
<path d="M822.0,565.0 C829.1,566.1 838.7,582.4 839.0,593.0 C839.0,602.0 832.5,607.5 822.0,607.5 C811.5,607.5 805.0,602.0 805.0,593.0 C805.3,582.4 814.9,566.1 822.0,565.0Z" fill="rgba(110,150,105,0.20)"/>
<polygon points="820.9,621.7 823.1,621.7 822.7,600.7 821.3,600.7" fill="rgba(175,145,130,0.5)"/>
<path d="M822.0,600.7 L820.0,589.2 M822.0,600.7 L830.2,587.1" stroke="rgba(175,145,130,0.5)" stroke-width="1.3" fill="none" stroke-linecap="round"/>
<path d="M821.7,602.0 L817.2,599.0" stroke="rgba(175,145,130,0.5)" stroke-width="0.9" fill="none" stroke-linecap="round"/>
<path d="M854.0,267.6 C858.8,270.9 870.0,289.8 870.0,305.3 C870.0,316.4 863.6,323.0 854.0,323.0 C844.4,323.0 838.0,316.4 838.0,305.3 C838.0,289.8 849.2,270.9 854.0,267.6Z" fill="rgb(246,242,242)" style="mix-blend-mode:multiply"/>
<path d="M854.0,267.6 C858.8,270.9 870.0,289.8 870.0,305.3 C870.0,316.4 863.6,323.0 854.0,323.0 C844.4,323.0 838.0,316.4 838.0,305.3 C838.0,289.8 849.2,270.9 854.0,267.6Z" fill="rgba(120,165,95,0.20)"/>
<polygon points="853.2,341.0 854.8,341.0 854.5,314.1 853.5,314.1" fill="rgba(140,130,130,0.45)"/>
<path d="M854.0,314.1 L852.1,299.2 M854.0,314.1 L861.7,296.4" stroke="rgba(140,130,130,0.45)" stroke-width="0.9" fill="none" stroke-linecap="round"/>
<path d="M853.7,315.8 L849.5,311.9" stroke="rgba(140,130,130,0.45)" stroke-width="0.9" fill="none" stroke-linecap="round"/>
<path d="M852.4,300.8 L847.6,293.1 M857.8,304.7 L862.3,299.7 M853.0,306.4 L847.0,303.1" stroke="rgba(140,130,130,0.45)" stroke-width="0.8" fill="none" stroke-linecap="round"/>
<path d="M872.0,281.8 C876.8,285.1 888.0,303.9 888.0,319.3 C888.0,330.4 881.6,337.0 872.0,337.0 C862.4,337.0 856.0,330.4 856.0,319.3 C856.0,303.9 867.2,285.1 872.0,281.8Z" fill="rgb(246,242,242)" style="mix-blend-mode:multiply"/>
<path d="M872.0,281.8 C876.8,285.1 888.0,303.9 888.0,319.3 C888.0,330.4 881.6,337.0 872.0,337.0 C862.4,337.0 856.0,330.4 856.0,319.3 C856.0,303.9 867.2,285.1 872.0,281.8Z" fill="rgba(120,165,95,0.20)"/>
<polygon points="871.2,356.0 872.8,356.0 872.5,328.2 871.5,328.2" fill="rgba(140,130,130,0.45)"/>
<path d="M872.0,328.2 L870.1,313.3 M872.0,328.2 L879.7,310.5" stroke="rgba(140,130,130,0.45)" stroke-width="0.9" fill="none" stroke-linecap="round"/>
<path d="M871.7,329.8 L867.5,326.0" stroke="rgba(140,130,130,0.45)" stroke-width="0.9" fill="none" stroke-linecap="round"/>
<path d="M870.4,314.9 L865.6,307.2 M875.8,318.8 L880.3,313.8 M871.0,320.4 L865.0,317.1" stroke="rgba(140,130,130,0.45)" stroke-width="0.8" fill="none" stroke-linecap="round"/>
<path d="M894.0,300.0 C898.8,303.3 910.0,322.0 910.0,337.4 C910.0,348.4 903.6,355.0 894.0,355.0 C884.4,355.0 878.0,348.4 878.0,337.4 C878.0,322.0 889.2,303.3 894.0,300.0Z" fill="rgb(246,242,242)" style="mix-blend-mode:multiply"/>
<path d="M894.0,300.0 C898.8,303.3 910.0,322.0 910.0,337.4 C910.0,348.4 903.6,355.0 894.0,355.0 C884.4,355.0 878.0,348.4 878.0,337.4 C878.0,322.0 889.2,303.3 894.0,300.0Z" fill="rgba(120,165,95,0.20)"/>
<polygon points="893.2,374.0 894.8,374.0 894.5,346.2 893.5,346.2" fill="rgba(140,130,130,0.45)"/>
<path d="M894.0,346.2 L892.1,331.4 M894.0,346.2 L901.7,328.6" stroke="rgba(140,130,130,0.45)" stroke-width="0.9" fill="none" stroke-linecap="round"/>
<path d="M893.7,347.8 L889.5,344.0" stroke="rgba(140,130,130,0.45)" stroke-width="0.9" fill="none" stroke-linecap="round"/>
<path d="M892.4,333.0 L887.6,325.3 M897.8,336.9 L902.3,331.9 M893.0,338.5 L887.0,335.2" stroke="rgba(140,130,130,0.45)" stroke-width="0.8" fill="none" stroke-linecap="round"/>
<path d="M917.0,317.0 C921.8,320.3 933.0,339.0 933.0,354.4 C933.0,365.4 926.6,372.0 917.0,372.0 C907.4,372.0 901.0,365.4 901.0,354.4 C901.0,339.0 912.2,320.3 917.0,317.0Z" fill="rgb(246,242,242)" style="mix-blend-mode:multiply"/>
<path d="M917.0,317.0 C921.8,320.3 933.0,339.0 933.0,354.4 C933.0,365.4 926.6,372.0 917.0,372.0 C907.4,372.0 901.0,365.4 901.0,354.4 C901.0,339.0 912.2,320.3 917.0,317.0Z" fill="rgba(120,165,95,0.20)"/>
<polygon points="916.2,391.0 917.8,391.0 917.5,363.2 916.5,363.2" fill="rgba(140,130,130,0.45)"/>
<path d="M917.0,363.2 L915.1,348.4 M917.0,363.2 L924.7,345.6" stroke="rgba(140,130,130,0.45)" stroke-width="0.9" fill="none" stroke-linecap="round"/>
<path d="M916.7,364.8 L912.5,361.0" stroke="rgba(140,130,130,0.45)" stroke-width="0.9" fill="none" stroke-linecap="round"/>
<path d="M915.4,350.0 L910.6,342.3 M920.8,353.9 L925.3,348.9 M916.0,355.5 L910.0,352.2" stroke="rgba(140,130,130,0.45)" stroke-width="0.8" fill="none" stroke-linecap="round"/>
<path d="M938.0,334.0 C942.8,337.4 954.0,356.4 954.0,372.1 C954.0,383.3 947.6,390.0 938.0,390.0 C928.4,390.0 922.0,383.3 922.0,372.1 C922.0,356.4 933.2,337.4 938.0,334.0Z" fill="rgb(246,242,242)" style="mix-blend-mode:multiply"/>
<path d="M938.0,334.0 C942.8,337.4 954.0,356.4 954.0,372.1 C954.0,383.3 947.6,390.0 938.0,390.0 C928.4,390.0 922.0,383.3 922.0,372.1 C922.0,356.4 933.2,337.4 938.0,334.0Z" fill="rgba(120,165,95,0.20)"/>
<polygon points="937.2,409.0 938.8,409.0 938.5,381.0 937.5,381.0" fill="rgba(140,130,130,0.45)"/>
<path d="M938.0,381.0 L936.1,365.9 M938.0,381.0 L945.7,363.1" stroke="rgba(140,130,130,0.45)" stroke-width="0.9" fill="none" stroke-linecap="round"/>
<path d="M937.7,382.7 L933.5,378.8" stroke="rgba(140,130,130,0.45)" stroke-width="0.9" fill="none" stroke-linecap="round"/>
<path d="M936.4,367.6 L931.6,359.8 M941.8,371.5 L946.3,366.5 M937.0,373.2 L931.0,369.8" stroke="rgba(140,130,130,0.45)" stroke-width="0.8" fill="none" stroke-linecap="round"/>
<path d="M955.0,349.0 C959.8,352.4 971.0,371.4 971.0,387.1 C971.0,398.3 964.6,405.0 955.0,405.0 C945.4,405.0 939.0,398.3 939.0,387.1 C939.0,371.4 950.2,352.4 955.0,349.0Z" fill="rgb(246,242,242)" style="mix-blend-mode:multiply"/>
<path d="M955.0,349.0 C959.8,352.4 971.0,371.4 971.0,387.1 C971.0,398.3 964.6,405.0 955.0,405.0 C945.4,405.0 939.0,398.3 939.0,387.1 C939.0,371.4 950.2,352.4 955.0,349.0Z" fill="rgba(120,165,95,0.20)"/>
<polygon points="954.2,423.6 955.8,423.6 955.5,396.0 954.5,396.0" fill="rgba(140,130,130,0.45)"/>
<path d="M955.0,396.0 L953.1,380.9 M955.0,396.0 L962.7,378.1" stroke="rgba(140,130,130,0.45)" stroke-width="0.9" fill="none" stroke-linecap="round"/>
<path d="M954.7,397.7 L950.5,393.8" stroke="rgba(140,130,130,0.45)" stroke-width="0.9" fill="none" stroke-linecap="round"/>
<path d="M953.4,382.6 L948.6,374.8 M958.8,386.5 L963.3,381.5 M954.0,388.2 L948.0,384.8" stroke="rgba(140,130,130,0.45)" stroke-width="0.8" fill="none" stroke-linecap="round"/>
<path d="M827.9,277.4 C832.7,280.7 843.9,299.6 843.9,315.2 C843.9,326.3 837.5,333.0 827.9,333.0 C818.3,333.0 811.9,326.3 811.9,315.2 C811.9,299.6 823.1,280.7 827.9,277.4Z" fill="rgb(224,226,212)" style="mix-blend-mode:multiply"/>
<path d="M827.9,277.4 C832.7,280.7 843.9,299.6 843.9,315.2 C843.9,326.3 837.5,333.0 827.9,333.0 C818.3,333.0 811.9,326.3 811.9,315.2 C811.9,299.6 823.1,280.7 827.9,277.4Z" fill="rgba(110,160,80,0.20)"/>
<polygon points="827.1,352.0 828.7,352.0 828.4,324.1 827.4,324.1" fill="rgba(120,105,110,0.6)"/>
<path d="M827.9,324.1 L826.0,309.1 M827.9,324.1 L835.6,306.3" stroke="rgba(120,105,110,0.6)" stroke-width="0.9" fill="none" stroke-linecap="round"/>
<path d="M827.6,325.8 L823.4,321.9" stroke="rgba(120,105,110,0.6)" stroke-width="0.9" fill="none" stroke-linecap="round"/>
<path d="M826.3,310.8 L821.5,303.0 M831.7,314.7 L836.2,309.6 M826.9,316.3 L820.9,313.0" stroke="rgba(120,105,110,0.6)" stroke-width="0.8" fill="none" stroke-linecap="round"/>
<path d="M845.7,292.8 C850.5,296.2 861.7,315.3 861.7,331.0 C861.7,342.3 855.3,349.0 845.7,349.0 C836.1,349.0 829.7,342.3 829.7,331.0 C829.7,315.3 840.9,296.2 845.7,292.8Z" fill="rgb(224,226,212)" style="mix-blend-mode:multiply"/>
<path d="M845.7,292.8 C850.5,296.2 861.7,315.3 861.7,331.0 C861.7,342.3 855.3,349.0 845.7,349.0 C836.1,349.0 829.7,342.3 829.7,331.0 C829.7,315.3 840.9,296.2 845.7,292.8Z" fill="rgba(110,160,80,0.20)"/>
<polygon points="844.9,367.4 846.5,367.4 846.2,340.0 845.2,340.0" fill="rgba(120,105,110,0.6)"/>
<path d="M845.7,340.0 L843.8,324.8 M845.7,340.0 L853.4,322.0" stroke="rgba(120,105,110,0.6)" stroke-width="0.9" fill="none" stroke-linecap="round"/>
<path d="M845.4,341.7 L841.2,337.8" stroke="rgba(120,105,110,0.6)" stroke-width="0.9" fill="none" stroke-linecap="round"/>
<path d="M844.1,326.5 L839.3,318.7 M849.5,330.5 L854.0,325.4 M844.7,332.1 L838.7,328.8" stroke="rgba(120,105,110,0.6)" stroke-width="0.8" fill="none" stroke-linecap="round"/>
<path d="M867.0,310.6 C871.8,314.0 883.0,333.2 883.0,349.0 C883.0,360.2 876.6,367.0 867.0,367.0 C857.4,367.0 851.0,360.2 851.0,349.0 C851.0,333.2 862.2,314.0 867.0,310.6Z" fill="rgb(224,226,212)" style="mix-blend-mode:multiply"/>
<path d="M867.0,310.6 C871.8,314.0 883.0,333.2 883.0,349.0 C883.0,360.2 876.6,367.0 867.0,367.0 C857.4,367.0 851.0,360.2 851.0,349.0 C851.0,333.2 862.2,314.0 867.0,310.6Z" fill="rgba(110,160,80,0.20)"/>
<polygon points="866.2,385.7 867.8,385.7 867.5,358.0 866.5,358.0" fill="rgba(120,105,110,0.6)"/>
<path d="M867.0,358.0 L865.1,342.7 M867.0,358.0 L874.7,339.9" stroke="rgba(120,105,110,0.6)" stroke-width="0.9" fill="none" stroke-linecap="round"/>
<path d="M866.7,359.7 L862.5,355.7" stroke="rgba(120,105,110,0.6)" stroke-width="0.9" fill="none" stroke-linecap="round"/>
<path d="M865.4,344.4 L860.6,336.5 M870.8,348.4 L875.3,343.3 M866.0,350.1 L860.0,346.7" stroke="rgba(120,105,110,0.6)" stroke-width="0.8" fill="none" stroke-linecap="round"/>
<path d="M889.0,327.0 C893.8,330.4 905.0,349.4 905.0,365.1 C905.0,376.3 898.6,383.0 889.0,383.0 C879.4,383.0 873.0,376.3 873.0,365.1 C873.0,349.4 884.2,330.4 889.0,327.0Z" fill="rgb(224,226,212)" style="mix-blend-mode:multiply"/>
<path d="M889.0,327.0 C893.8,330.4 905.0,349.4 905.0,365.1 C905.0,376.3 898.6,383.0 889.0,383.0 C879.4,383.0 873.0,376.3 873.0,365.1 C873.0,349.4 884.2,330.4 889.0,327.0Z" fill="rgba(110,160,80,0.20)"/>
<polygon points="888.2,402.0 889.8,402.0 889.5,374.0 888.5,374.0" fill="rgba(120,105,110,0.6)"/>
<path d="M889.0,374.0 L887.1,358.9 M889.0,374.0 L896.7,356.1" stroke="rgba(120,105,110,0.6)" stroke-width="0.9" fill="none" stroke-linecap="round"/>
<path d="M888.7,375.7 L884.5,371.8" stroke="rgba(120,105,110,0.6)" stroke-width="0.9" fill="none" stroke-linecap="round"/>
<path d="M887.4,360.6 L882.6,352.8 M892.8,364.5 L897.3,359.5 M888.0,366.2 L882.0,362.8" stroke="rgba(120,105,110,0.6)" stroke-width="0.8" fill="none" stroke-linecap="round"/>
<path d="M911.0,343.0 C915.8,346.4 927.0,365.4 927.0,381.1 C927.0,392.3 920.6,399.0 911.0,399.0 C901.4,399.0 895.0,392.3 895.0,381.1 C895.0,365.4 906.2,346.4 911.0,343.0Z" fill="rgb(224,226,212)" style="mix-blend-mode:multiply"/>
<path d="M911.0,343.0 C915.8,346.4 927.0,365.4 927.0,381.1 C927.0,392.3 920.6,399.0 911.0,399.0 C901.4,399.0 895.0,392.3 895.0,381.1 C895.0,365.4 906.2,346.4 911.0,343.0Z" fill="rgba(110,160,80,0.20)"/>
<polygon points="910.2,418.7 911.8,418.7 911.5,390.0 910.5,390.0" fill="rgba(120,105,110,0.6)"/>
<path d="M911.0,390.0 L909.1,374.9 M911.0,390.0 L918.7,372.1" stroke="rgba(120,105,110,0.6)" stroke-width="0.9" fill="none" stroke-linecap="round"/>
<path d="M910.7,391.7 L906.5,387.8" stroke="rgba(120,105,110,0.6)" stroke-width="0.9" fill="none" stroke-linecap="round"/>
<path d="M909.4,376.6 L904.6,368.8 M914.8,380.5 L919.3,375.5 M910.0,382.2 L904.0,378.8" stroke="rgba(120,105,110,0.6)" stroke-width="0.8" fill="none" stroke-linecap="round"/>
<path d="M928.0,358.8 C932.8,362.2 944.0,381.3 944.0,397.0 C944.0,408.3 937.6,415.0 928.0,415.0 C918.4,415.0 912.0,408.3 912.0,397.0 C912.0,381.3 923.2,362.2 928.0,358.8Z" fill="rgb(224,226,212)" style="mix-blend-mode:multiply"/>
<path d="M928.0,358.8 C932.8,362.2 944.0,381.3 944.0,397.0 C944.0,408.3 937.6,415.0 928.0,415.0 C918.4,415.0 912.0,408.3 912.0,397.0 C912.0,381.3 923.2,362.2 928.0,358.8Z" fill="rgba(110,160,80,0.20)"/>
<polygon points="927.2,433.4 928.8,433.4 928.5,406.0 927.5,406.0" fill="rgba(120,105,110,0.6)"/>
<path d="M928.0,406.0 L926.1,390.8 M928.0,406.0 L935.7,388.0" stroke="rgba(120,105,110,0.6)" stroke-width="0.9" fill="none" stroke-linecap="round"/>
<path d="M927.7,407.7 L923.5,403.8" stroke="rgba(120,105,110,0.6)" stroke-width="0.9" fill="none" stroke-linecap="round"/>
<path d="M926.4,392.5 L921.6,384.7 M931.8,396.5 L936.3,391.4 M927.0,398.1 L921.0,394.8" stroke="rgba(120,105,110,0.6)" stroke-width="0.8" fill="none" stroke-linecap="round"/>
<path d="M923.8,563.0 C930.6,564.2 939.7,583.1 940.0,595.3 C940.0,605.6 933.9,612.0 923.8,612.0 C913.7,612.0 907.5,605.6 907.5,595.3 C907.9,583.1 917.0,564.2 923.8,563.0Z" fill="rgb(254,253,254)" style="mix-blend-mode:multiply"/>
<path d="M923.8,563.0 C930.6,564.2 939.7,583.1 940.0,595.3 C940.0,605.6 933.9,612.0 923.8,612.0 C913.7,612.0 907.5,605.6 907.5,595.3 C907.9,583.1 917.0,564.2 923.8,563.0Z" fill="rgba(150,152,150,0.20)"/>
<polygon points="922.6,626.6 924.9,626.6 924.5,604.2 923.1,604.2" fill="rgba(225,195,190,0.35)"/>
<path d="M923.8,604.2 L921.8,590.9 M923.8,604.2 L931.6,588.5" stroke="rgba(225,195,190,0.35)" stroke-width="1.3" fill="none" stroke-linecap="round"/>
<path d="M923.5,605.6 L919.2,602.2" stroke="rgba(225,195,190,0.35)" stroke-width="0.9" fill="none" stroke-linecap="round"/>
<path d="M942.0,581.0 C949.1,582.2 958.7,601.1 959.0,613.3 C959.0,623.6 952.5,630.0 942.0,630.0 C931.5,630.0 925.0,623.6 925.0,613.3 C925.3,601.1 934.9,582.2 942.0,581.0Z" fill="rgb(254,253,254)" style="mix-blend-mode:multiply"/>
<path d="M942.0,581.0 C949.1,582.2 958.7,601.1 959.0,613.3 C959.0,623.6 952.5,630.0 942.0,630.0 C931.5,630.0 925.0,623.6 925.0,613.3 C925.3,601.1 934.9,582.2 942.0,581.0Z" fill="rgba(150,152,150,0.20)"/>
<polygon points="940.9,646.0 943.1,646.0 942.7,622.2 941.3,622.2" fill="rgba(225,195,190,0.35)"/>
<path d="M942.0,622.2 L940.0,608.9 M942.0,622.2 L950.2,606.5" stroke="rgba(225,195,190,0.35)" stroke-width="1.3" fill="none" stroke-linecap="round"/>
<path d="M941.7,623.6 L937.2,620.2" stroke="rgba(225,195,190,0.35)" stroke-width="0.9" fill="none" stroke-linecap="round"/>
<path d="M957.8,604.0 C964.7,605.2 974.0,624.5 974.3,637.0 C974.3,647.5 968.0,654.0 957.8,654.0 C947.6,654.0 941.3,647.5 941.3,637.0 C941.6,624.5 950.9,605.2 957.8,604.0Z" fill="rgb(254,253,254)" style="mix-blend-mode:multiply"/>
<path d="M957.8,604.0 C964.7,605.2 974.0,624.5 974.3,637.0 C974.3,647.5 968.0,654.0 957.8,654.0 C947.6,654.0 941.3,647.5 941.3,637.0 C941.6,624.5 950.9,605.2 957.8,604.0Z" fill="rgba(150,152,150,0.20)"/>
<polygon points="956.6,670.0 958.9,670.0 958.5,646.0 957.1,646.0" fill="rgba(225,195,190,0.35)"/>
<path d="M957.8,646.0 L955.8,632.5 M957.8,646.0 L965.7,630.0" stroke="rgba(225,195,190,0.35)" stroke-width="1.3" fill="none" stroke-linecap="round"/>
<path d="M957.5,647.5 L953.2,644.0" stroke="rgba(225,195,190,0.35)" stroke-width="0.9" fill="none" stroke-linecap="round"/>
<polygon points="105.8,418.2 143.8,399.5 217.2,462.5 179.2,481.2" fill="#d6e1e4"/>
<polygon points="105.8,418.2 179.2,481.2 179.2,523.2 105.8,460.2" fill="url(#gl-blue)"/>
<polygon points="179.2,481.2 217.2,462.5 217.2,504.5 179.2,523.2" fill="url(#gr-blue)"/>
<polyline points="105.8,418.2 179.2,481.2 217.2,462.5" fill="none" stroke="#505456" stroke-width="1.10" stroke-linejoin="round"/>
<line x1="179.2" y1="481.2" x2="179.2" y2="523.2" stroke="#505456" stroke-width="1.10"/>
<polygon points="105.8,418.2 143.8,399.5 217.2,462.5 217.2,504.5 179.2,523.2 105.8,460.2" fill="none" stroke="#505456" stroke-width="2.00" stroke-linejoin="miter"/>
<polygon points="214.2,362.5 252.0,344.5 323.2,409.0 285.5,427.0" fill="#d6e1e4"/>
<polygon points="214.2,362.5 285.5,427.0 285.5,469.5 214.2,405.0" fill="url(#gl-blue)"/>
<polygon points="285.5,427.0 323.2,409.0 323.2,451.5 285.5,469.5" fill="url(#gr-blue)"/>
<polyline points="214.2,362.5 285.5,427.0 323.2,409.0" fill="none" stroke="#505456" stroke-width="1.10" stroke-linejoin="round"/>
<line x1="285.5" y1="427.0" x2="285.5" y2="469.5" stroke="#505456" stroke-width="1.10"/>
<polygon points="214.2,362.5 252.0,344.5 323.2,409.0 323.2,451.5 285.5,469.5 214.2,405.0" fill="none" stroke="#505456" stroke-width="2.00" stroke-linejoin="miter"/>
<polygon points="323.8,309.2 362.5,291.2 432.5,356.5 393.8,374.5" fill="#d6e1e4"/>
<polygon points="323.8,309.2 393.8,374.5 393.8,416.5 323.8,351.2" fill="url(#gl-blue)"/>
<polygon points="393.8,374.5 432.5,356.5 432.5,398.5 393.8,416.5" fill="url(#gr-blue)"/>
<polyline points="323.8,309.2 393.8,374.5 432.5,356.5" fill="none" stroke="#505456" stroke-width="1.10" stroke-linejoin="round"/>
<line x1="393.8" y1="374.5" x2="393.8" y2="416.5" stroke="#505456" stroke-width="1.10"/>
<polygon points="323.8,309.2 362.5,291.2 432.5,356.5 432.5,398.5 393.8,416.5 323.8,351.2" fill="none" stroke="#505456" stroke-width="2.00" stroke-linejoin="miter"/>
<polygon points="434.5,257.0 473.8,239.2 542.5,304.8 503.2,322.5" fill="#d6e1e4"/>
<polygon points="434.5,257.0 503.2,322.5 503.2,364.0 434.5,298.5" fill="url(#gl-blue)"/>
<polygon points="503.2,322.5 542.5,304.8 542.5,346.2 503.2,364.0" fill="url(#gr-blue)"/>
<polyline points="434.5,257.0 503.2,322.5 542.5,304.8" fill="none" stroke="#505456" stroke-width="1.10" stroke-linejoin="round"/>
<line x1="503.2" y1="322.5" x2="503.2" y2="364.0" stroke="#505456" stroke-width="1.10"/>
<polygon points="434.5,257.0 473.8,239.2 542.5,304.8 542.5,346.2 503.2,364.0 434.5,298.5" fill="none" stroke="#505456" stroke-width="2.00" stroke-linejoin="miter"/>
<polygon points="618.9,177.6 646.0,165.4 686.6,207.9 656.6,218.3" fill="#dfcbd1"/>
<polygon points="627.2,186.6 631.7,184.9 661.1,216.6 656.6,218.3" fill="#cfb9c0"/>
<polygon points="557.0,202.8 618.9,177.6 656.6,218.3 595.1,242.0" fill="#dfcbd1"/>
<polygon points="557.0,202.8 595.1,242.0 595.1,291.2 557.0,252.0" fill="url(#gl-pink)"/>
<polygon points="595.1,242.0 656.6,218.3 656.6,267.5 595.1,291.2" fill="url(#gr-pink)"/>
<polygon points="656.6,218.3 686.6,207.9 686.6,228.9 656.6,239.3" fill="url(#gr-pink)"/>
<polyline points="557.0,202.8 595.1,242.0 656.6,218.3 686.6,207.9" fill="none" stroke="#505456" stroke-width="1.10" stroke-linejoin="miter"/>
<polyline points="595.1,242.0 595.1,291.2" fill="none" stroke="#505456" stroke-width="1.10" stroke-linejoin="miter"/>
<polyline points="618.9,177.6 656.6,218.3" fill="none" stroke="#505456" stroke-width="1.10" stroke-linejoin="miter"/>
<polyline points="656.6,218.3 656.6,239.3" fill="none" stroke="#505456" stroke-width="2.00" stroke-linejoin="miter"/>
<polygon points="557.0,202.8 618.9,177.6 646.0,165.4 686.6,207.9 686.6,228.9 656.6,239.3 656.6,267.5 595.1,291.2 557.0,252.0" fill="none" stroke="#505456" stroke-width="2.00" stroke-linejoin="miter"/>
<polygon points="717.0,286.2 741.2,276.2 769.2,305.0 745.0,315.0" fill="#ece1c7"/>
<polygon points="645.0,307.5 717.0,277.0 745.0,305.8 673.0,336.2" fill="#ece1c7"/>
<polygon points="645.0,307.5 673.0,336.2 673.0,372.0 645.0,343.2" fill="url(#gl-beige)"/>
<polygon points="673.0,336.2 745.0,305.8 745.0,315.0 769.2,305.0 769.2,331.5 673.0,372.0" fill="url(#gr-beige)"/>
<polyline points="645.0,307.5 673.0,336.2 745.0,305.8 745.0,315.0 769.2,305.0" fill="none" stroke="#505456" stroke-width="1.10" stroke-linejoin="miter"/>
<polyline points="673.0,336.2 673.0,372.0" fill="none" stroke="#505456" stroke-width="1.10" stroke-linejoin="miter"/>
<polyline points="717.0,277.0 745.0,305.8" fill="none" stroke="#505456" stroke-width="1.20" stroke-linejoin="miter"/>
<polygon points="645.0,307.5 717.0,277.0 723.4,283.6 741.2,276.2 769.2,305.0 769.2,331.5 673.0,372.0 645.0,343.2" fill="none" stroke="#505456" stroke-width="2.00" stroke-linejoin="miter"/>
<polygon points="738.0,341.2 808.8,311.2 837.8,340.0 767.0,370.0" fill="#ece1c7"/>
<polygon points="738.0,341.2 767.0,370.0 767.0,377.0 738.0,348.2" fill="url(#gl-beige)"/>
<polygon points="713.8,360.0 738.0,348.2 767.0,377.0 742.8,388.8" fill="#ece1c7"/>
<polygon points="713.8,360.0 742.8,388.8 742.8,425.5 713.8,396.8" fill="url(#gl-beige)"/>
<polygon points="742.8,388.8 767.0,377.0 767.0,370.0 837.8,340.0 837.8,383.8 742.8,425.5" fill="url(#gr-beige)"/>
<polyline points="738.0,341.2 767.0,370.0 837.8,340.0" fill="none" stroke="#505456" stroke-width="1.10" stroke-linejoin="miter"/>
<polyline points="738.0,348.2 767.0,377.0" fill="none" stroke="#505456" stroke-width="1.10" stroke-linejoin="miter"/>
<polyline points="713.8,360.0 742.8,388.8 767.0,377.0 767.0,370.0" fill="none" stroke="#505456" stroke-width="1.10" stroke-linejoin="miter"/>
<polyline points="742.8,388.8 742.8,425.5" fill="none" stroke="#505456" stroke-width="1.10" stroke-linejoin="miter"/>
<polygon points="713.8,360.0 738.0,348.2 738.0,341.2 808.8,311.2 837.8,340.0 837.8,383.8 742.8,425.5 713.8,396.8" fill="none" stroke="#505456" stroke-width="2.00" stroke-linejoin="miter"/>
<polygon points="828.8,405.2 852.5,395.0 880.8,424.5 857.0,434.8" fill="#ece1c7"/>
<polygon points="757.0,426.5 828.8,396.2 857.0,425.8 785.2,456.0" fill="#ece1c7"/>
<polygon points="757.0,426.5 785.2,456.0 785.2,491.0 757.0,461.5" fill="url(#gl-beige)"/>
<polygon points="785.2,456.0 857.0,425.8 857.0,434.8 880.8,424.5 880.8,450.5 785.2,491.0" fill="url(#gr-beige)"/>
<polyline points="757.0,426.5 785.2,456.0 857.0,425.8 857.0,434.8 880.8,424.5" fill="none" stroke="#505456" stroke-width="1.10" stroke-linejoin="miter"/>
<polyline points="785.2,456.0 785.2,491.0" fill="none" stroke="#505456" stroke-width="1.10" stroke-linejoin="miter"/>
<polyline points="828.8,396.2 857.0,425.8" fill="none" stroke="#505456" stroke-width="1.20" stroke-linejoin="miter"/>
<polygon points="757.0,426.5 828.8,396.2 834.8,402.6 852.5,395.0 880.8,424.5 880.8,450.5 785.2,491.0 757.0,461.5" fill="none" stroke="#505456" stroke-width="2.00" stroke-linejoin="miter"/>
<polygon points="848.8,461.5 909.8,436.5 948.0,476.2 887.0,501.2" fill="#dfcbd1"/>
<polygon points="848.8,461.5 887.0,501.2 887.0,546.2 848.8,506.5" fill="url(#gl-pink)"/>
<polygon points="887.0,501.2 948.0,476.2 948.0,521.2 887.0,546.2" fill="url(#gr-pink)"/>
<polyline points="848.8,461.5 887.0,501.2 948.0,476.2" fill="none" stroke="#505456" stroke-width="1.10" stroke-linejoin="round"/>
<line x1="887.0" y1="501.2" x2="887.0" y2="546.2" stroke="#505456" stroke-width="1.10"/>
<polygon points="848.8,461.5 909.8,436.5 948.0,476.2 948.0,521.2 887.0,546.2 848.8,506.5" fill="none" stroke="#505456" stroke-width="2.00" stroke-linejoin="miter"/>
<polygon points="580.0,411.5 640.0,386.8 677.8,426.5 617.8,451.2" fill="#dfcbd1"/>
<polygon points="580.0,411.5 617.8,451.2 617.8,499.8 580.0,460.0" fill="url(#gl-pink)"/>
<polygon points="617.8,451.2 677.8,426.5 677.8,475.0 617.8,499.8" fill="url(#gr-pink)"/>
<polyline points="580.0,411.5 617.8,451.2 677.8,426.5" fill="none" stroke="#505456" stroke-width="1.10" stroke-linejoin="round"/>
<line x1="617.8" y1="451.2" x2="617.8" y2="499.8" stroke="#505456" stroke-width="1.10"/>
<polygon points="580.0,411.5 640.0,386.8 677.8,426.5 677.8,475.0 617.8,499.8 580.0,460.0" fill="none" stroke="#505456" stroke-width="2.00" stroke-linejoin="miter"/>
<polygon points="640.0,488.8 685.5,470.0 735.0,521.2 689.5,540.0" fill="#cad4c5"/>
<polygon points="640.0,488.8 689.5,540.0 689.5,575.0 640.0,523.8" fill="url(#gl-green)"/>
<polygon points="689.5,540.0 735.0,521.2 735.0,556.2 689.5,575.0" fill="url(#gr-green)"/>
<polyline points="640.0,488.8 689.5,540.0 735.0,521.2" fill="none" stroke="#505456" stroke-width="1.10" stroke-linejoin="round"/>
<line x1="689.5" y1="540.0" x2="689.5" y2="575.0" stroke="#505456" stroke-width="1.10"/>
<polygon points="640.0,488.8 685.5,470.0 735.0,521.2 735.0,556.2 689.5,575.0 640.0,523.8" fill="none" stroke="#505456" stroke-width="2.00" stroke-linejoin="miter"/>
<polygon points="635.8,543.0 659.5,534.5 688.8,562.0 665.0,570.5" fill="#b9c8b5"/>
<polygon points="635.8,543.0 665.0,570.5 665.0,584.5 635.8,557.0" fill="url(#gl-conn)"/>
<polygon points="665.0,570.5 688.8,562.0 688.8,576.0 665.0,584.5" fill="url(#gr-conn)"/>
<polyline points="635.8,543.0 665.0,570.5 688.8,562.0" fill="none" stroke="#505456" stroke-width="1.10" stroke-linejoin="round"/>
<line x1="665.0" y1="570.5" x2="665.0" y2="584.5" stroke="#505456" stroke-width="1.10"/>
<polygon points="635.8,543.0 659.5,534.5 688.8,562.0 688.8,576.0 665.0,584.5 635.8,557.0" fill="none" stroke="#505456" stroke-width="2.00" stroke-linejoin="miter"/>
<polygon points="539.2,570.5 635.5,530.8 663.8,559.8 567.5,599.5" fill="#ece1c7"/>
<polygon points="539.2,570.5 567.5,599.5 567.5,626.5 539.2,597.5" fill="url(#gl-beige)"/>
<polygon points="567.5,599.5 663.8,559.8 663.8,586.8 567.5,626.5" fill="url(#gr-beige)"/>
<polyline points="539.2,570.5 567.5,599.5 663.8,559.8" fill="none" stroke="#505456" stroke-width="1.10" stroke-linejoin="round"/>
<line x1="567.5" y1="599.5" x2="567.5" y2="626.5" stroke="#505456" stroke-width="1.10"/>
<polygon points="539.2,570.5 635.5,530.8 663.8,559.8 663.8,586.8 567.5,626.5 539.2,597.5" fill="none" stroke="#505456" stroke-width="2.00" stroke-linejoin="miter"/>
<polygon points="706.3,575.9 767.3,550.2 805.4,589.1 744.4,614.8" fill="#dfcbd1"/>
<polygon points="706.3,575.9 744.4,614.8 744.4,650.3 706.3,611.4" fill="url(#gl-pink)"/>
<polygon points="744.4,614.8 805.4,589.1 805.4,624.6 744.4,650.3" fill="url(#gr-pink)"/>
<polyline points="706.3,575.9 744.4,614.8 805.4,589.1" fill="none" stroke="#505456" stroke-width="1.10" stroke-linejoin="round"/>
<line x1="744.4" y1="614.8" x2="744.4" y2="650.3" stroke="#505456" stroke-width="1.10"/>
<polygon points="706.3,575.9 767.3,550.2 805.4,589.1 805.4,624.6 744.4,650.3 706.3,611.4" fill="none" stroke="#505456" stroke-width="2.00" stroke-linejoin="miter"/>
<polygon points="491.0,433.5 516.0,422.8 544.0,450.2 519.0,461.0" fill="#ece1c7"/>
<polygon points="419.5,456.2 491.0,424.0 519.0,451.5 447.5,483.8" fill="#ece1c7"/>
<polygon points="419.5,456.2 447.5,483.8 447.5,518.8 419.5,491.2" fill="url(#gl-beige)"/>
<polygon points="447.5,483.8 519.0,451.5 519.0,461.0 544.0,450.2 544.0,475.8 447.5,518.8" fill="url(#gr-beige)"/>
<polyline points="419.5,456.2 447.5,483.8 519.0,451.5 519.0,461.0 544.0,450.2" fill="none" stroke="#505456" stroke-width="1.10" stroke-linejoin="miter"/>
<polyline points="447.5,483.8 447.5,518.8" fill="none" stroke="#505456" stroke-width="1.10" stroke-linejoin="miter"/>
<polyline points="491.0,424.0 519.0,451.5" fill="none" stroke="#505456" stroke-width="1.20" stroke-linejoin="miter"/>
<polygon points="419.5,456.2 491.0,424.0 497.7,430.6 516.0,422.8 544.0,450.2 544.0,475.8 447.5,518.8 419.5,491.2" fill="none" stroke="#505456" stroke-width="2.00" stroke-linejoin="miter"/>
<polygon points="411.5,482.5 418.8,478.9 447.7,507.8 440.4,511.4" fill="#b9c8b5"/>
<polygon points="411.5,482.5 440.4,511.4 440.4,523.4 411.5,494.5" fill="url(#gl-conn)"/>
<polygon points="440.4,511.4 447.7,507.8 447.7,519.8 440.4,523.4" fill="url(#gr-conn)"/>
<polyline points="411.5,482.5 440.4,511.4 447.7,507.8" fill="none" stroke="#505456" stroke-width="1.10" stroke-linejoin="round"/>
<line x1="440.4" y1="511.4" x2="440.4" y2="523.4" stroke="#505456" stroke-width="1.10"/>
<polygon points="411.5,482.5 418.8,478.9 447.7,507.8 447.7,519.8 440.4,523.4 411.5,494.5" fill="none" stroke="#505456" stroke-width="2.00" stroke-linejoin="miter"/>
<polygon points="347.5,484.4 393.5,464.5 443.8,515.6 397.8,535.5" fill="#cad4c5"/>
<polygon points="347.5,484.4 397.8,535.5 397.8,570.5 347.5,519.4" fill="url(#gl-green)"/>
<polygon points="397.8,535.5 443.8,515.6 443.8,550.6 397.8,570.5" fill="url(#gr-green)"/>
<polyline points="347.5,484.4 397.8,535.5 443.8,515.6" fill="none" stroke="#505456" stroke-width="1.10" stroke-linejoin="round"/>
<line x1="397.8" y1="535.5" x2="397.8" y2="570.5" stroke="#505456" stroke-width="1.10"/>
<polygon points="347.5,484.4 393.5,464.5 443.8,515.6 443.8,550.6 397.8,570.5 347.5,519.4" fill="none" stroke="#505456" stroke-width="2.00" stroke-linejoin="miter"/>
<polygon points="422.5,571.2 467.5,552.5 528.5,616.5 483.5,635.2" fill="#ece1c7"/>
<polygon points="422.5,571.2 483.5,635.2 483.5,661.8 422.5,597.8" fill="url(#gl-beige)"/>
<polygon points="483.5,635.2 528.5,616.5 528.5,643.0 483.5,661.8" fill="url(#gr-beige)"/>
<polyline points="422.5,571.2 483.5,635.2 528.5,616.5" fill="none" stroke="#505456" stroke-width="1.10" stroke-linejoin="round"/>
<line x1="483.5" y1="635.2" x2="483.5" y2="661.8" stroke="#505456" stroke-width="1.10"/>
<polygon points="422.5,571.2 467.5,552.5 528.5,616.5 528.5,643.0 483.5,661.8 422.5,597.8" fill="none" stroke="#505456" stroke-width="2.00" stroke-linejoin="miter"/>
<polygon points="235.0,531.2 307.0,500.5 336.2,529.8 264.2,560.5" fill="#ece1c7"/>
<polygon points="235.0,531.2 264.2,560.5 264.2,568.0 235.0,538.8" fill="url(#gl-beige)"/>
<polygon points="210.5,549.5 235.0,538.8 264.2,568.0 239.8,578.8" fill="#ece1c7"/>
<polygon points="210.5,549.5 239.8,578.8 239.8,606.2 210.5,577.0" fill="url(#gl-beige)"/>
<polygon points="239.8,578.8 264.2,568.0 264.2,560.5 336.2,529.8 336.2,564.8 239.8,606.2" fill="url(#gr-beige)"/>
<polyline points="235.0,531.2 264.2,560.5 336.2,529.8" fill="none" stroke="#505456" stroke-width="1.10" stroke-linejoin="miter"/>
<polyline points="235.0,538.8 264.2,568.0" fill="none" stroke="#505456" stroke-width="1.10" stroke-linejoin="miter"/>
<polyline points="210.5,549.5 239.8,578.8 264.2,568.0 264.2,560.5" fill="none" stroke="#505456" stroke-width="1.10" stroke-linejoin="miter"/>
<polyline points="239.8,578.8 239.8,606.2" fill="none" stroke="#505456" stroke-width="1.10" stroke-linejoin="miter"/>
<polygon points="210.5,549.5 235.0,538.8 235.0,531.2 307.0,500.5 336.2,529.8 336.2,564.8 239.8,606.2 210.5,577.0" fill="none" stroke="#505456" stroke-width="2.00" stroke-linejoin="miter"/>
<polygon points="819.4,623.0 877.8,600.8 957.0,681.4 898.6,703.6" fill="#e4e4e4"/>
<polygon points="819.4,623.0 898.6,703.6 898.6,712.0 819.4,631.4" fill="url(#gl-gray)"/>
<polygon points="765.3,655.6 819.4,631.4 898.6,712.0 844.5,736.2" fill="#e4e4e4"/>
<polygon points="765.3,655.6 844.5,736.2 844.5,763.2 765.3,682.6" fill="url(#gl-gray)"/>
<polygon points="844.5,736.2 898.6,712.0 898.6,703.6 957.0,681.4 957.0,716.8 844.5,763.2" fill="url(#gr-gray)"/>
<polyline points="819.4,623.0 898.6,703.6 957.0,681.4" fill="none" stroke="#505456" stroke-width="1.10" stroke-linejoin="miter"/>
<polyline points="819.4,631.4 898.6,712.0" fill="none" stroke="#505456" stroke-width="1.10" stroke-linejoin="miter"/>
<polyline points="765.3,655.6 844.5,736.2 898.6,712.0 898.6,703.6" fill="none" stroke="#505456" stroke-width="1.10" stroke-linejoin="miter"/>
<polyline points="844.5,736.2 844.5,763.2" fill="none" stroke="#505456" stroke-width="1.10" stroke-linejoin="miter"/>
<polygon points="765.3,655.6 819.4,631.4 819.4,623.0 877.8,600.8 957.0,681.4 957.0,716.8 844.5,763.2 765.3,682.6" fill="none" stroke="#505456" stroke-width="2.00" stroke-linejoin="miter"/>
<polyline points="898.6,703.6 898.6,739.0" fill="none" stroke="#505456" stroke-width="1.10" stroke-linejoin="miter"/>
<path d="M200.8,455.8 C207.9,457.0 217.4,475.5 217.8,487.6 C217.8,497.7 211.3,504.0 200.8,504.0 C190.2,504.0 183.8,497.7 183.8,487.6 C184.1,475.5 193.6,457.0 200.8,455.8Z" fill="rgb(220,221,220)" style="mix-blend-mode:multiply"/>
<path d="M200.8,455.8 C207.9,457.0 217.4,475.5 217.8,487.6 C217.8,497.7 211.3,504.0 200.8,504.0 C190.2,504.0 183.8,497.7 183.8,487.6 C184.1,475.5 193.6,457.0 200.8,455.8Z" fill="rgba(110,150,100,0.20)"/>
<polygon points="199.6,520.0 201.9,520.0 201.5,496.3 200.0,496.3" fill="rgba(150,118,104,0.5)"/>
<path d="M200.8,496.3 L198.7,483.3 M200.8,496.3 L208.9,480.8" stroke="rgba(150,118,104,0.5)" stroke-width="1.3" fill="none" stroke-linecap="round"/>
<path d="M200.4,497.7 L196.0,494.3" stroke="rgba(150,118,104,0.5)" stroke-width="0.9" fill="none" stroke-linecap="round"/>
<path d="M258.0,434.5 C265.1,435.7 274.7,454.7 275.0,467.0 C275.0,477.3 268.5,483.8 258.0,483.8 C247.5,483.8 241.0,477.3 241.0,467.0 C241.3,454.7 250.9,435.7 258.0,434.5Z" fill="rgb(220,221,220)" style="mix-blend-mode:multiply"/>
<path d="M258.0,434.5 C265.1,435.7 274.7,454.7 275.0,467.0 C275.0,477.3 268.5,483.8 258.0,483.8 C247.5,483.8 241.0,477.3 241.0,467.0 C241.3,454.7 250.9,435.7 258.0,434.5Z" fill="rgba(110,150,100,0.20)"/>
<polygon points="256.9,499.5 259.1,499.5 258.7,475.9 257.3,475.9" fill="rgba(150,118,104,0.5)"/>
<path d="M258.0,475.9 L256.0,462.6 M258.0,475.9 L266.2,460.1" stroke="rgba(150,118,104,0.5)" stroke-width="1.3" fill="none" stroke-linecap="round"/>
<path d="M257.7,477.3 L253.2,473.9" stroke="rgba(150,118,104,0.5)" stroke-width="0.9" fill="none" stroke-linecap="round"/>
<path d="M319.5,410.0 C326.6,411.2 336.2,430.0 336.5,442.2 C336.5,452.4 330.0,458.8 319.5,458.8 C309.0,458.8 302.5,452.4 302.5,442.2 C302.8,430.0 312.4,411.2 319.5,410.0Z" fill="rgb(220,221,220)" style="mix-blend-mode:multiply"/>
<path d="M319.5,410.0 C326.6,411.2 336.2,430.0 336.5,442.2 C336.5,452.4 330.0,458.8 319.5,458.8 C309.0,458.8 302.5,452.4 302.5,442.2 C302.8,430.0 312.4,411.2 319.5,410.0Z" fill="rgba(110,150,100,0.20)"/>
<polygon points="318.4,474.5 320.6,474.5 320.2,450.9 318.8,450.9" fill="rgba(150,118,104,0.5)"/>
<path d="M319.5,450.9 L317.5,437.8 M319.5,450.9 L327.7,435.4" stroke="rgba(150,118,104,0.5)" stroke-width="1.3" fill="none" stroke-linecap="round"/>
<path d="M319.2,452.4 L314.7,449.0" stroke="rgba(150,118,104,0.5)" stroke-width="0.9" fill="none" stroke-linecap="round"/>
<path d="M371.2,384.5 C378.4,385.7 387.9,404.6 388.2,416.8 C388.2,427.1 381.8,433.5 371.2,433.5 C360.7,433.5 354.2,427.1 354.2,416.8 C354.6,404.6 364.1,385.7 371.2,384.5Z" fill="rgb(220,221,220)" style="mix-blend-mode:multiply"/>
<path d="M371.2,384.5 C378.4,385.7 387.9,404.6 388.2,416.8 C388.2,427.1 381.8,433.5 371.2,433.5 C360.7,433.5 354.2,427.1 354.2,416.8 C354.6,404.6 364.1,385.7 371.2,384.5Z" fill="rgba(110,150,100,0.20)"/>
<polygon points="370.1,449.5 372.4,449.5 372.0,425.7 370.5,425.7" fill="rgba(150,118,104,0.5)"/>
<path d="M371.2,425.7 L369.2,412.4 M371.2,425.7 L379.4,410.0" stroke="rgba(150,118,104,0.5)" stroke-width="1.3" fill="none" stroke-linecap="round"/>
<path d="M370.9,427.1 L366.5,423.7" stroke="rgba(150,118,104,0.5)" stroke-width="0.9" fill="none" stroke-linecap="round"/>
<path d="M430.0,361.2 C437.1,362.5 446.7,381.2 447.0,393.4 C447.0,403.7 440.5,410.0 430.0,410.0 C419.5,410.0 413.0,403.7 413.0,393.4 C413.3,381.2 422.9,362.5 430.0,361.2Z" fill="rgb(220,221,220)" style="mix-blend-mode:multiply"/>
<path d="M430.0,361.2 C437.1,362.5 446.7,381.2 447.0,393.4 C447.0,403.7 440.5,410.0 430.0,410.0 C419.5,410.0 413.0,403.7 413.0,393.4 C413.3,381.2 422.9,362.5 430.0,361.2Z" fill="rgba(110,150,100,0.20)"/>
<polygon points="428.9,426.0 431.1,426.0 430.7,402.2 429.3,402.2" fill="rgba(150,118,104,0.5)"/>
<path d="M430.0,402.2 L428.0,389.0 M430.0,402.2 L438.2,386.6" stroke="rgba(150,118,104,0.5)" stroke-width="1.3" fill="none" stroke-linecap="round"/>
<path d="M429.7,403.7 L425.2,400.2" stroke="rgba(150,118,104,0.5)" stroke-width="0.9" fill="none" stroke-linecap="round"/>
<path d="M481.2,336.2 C488.4,337.5 497.9,356.2 498.2,368.4 C498.2,378.7 491.8,385.0 481.2,385.0 C470.7,385.0 464.2,378.7 464.2,368.4 C464.6,356.2 474.1,337.5 481.2,336.2Z" fill="rgb(220,221,220)" style="mix-blend-mode:multiply"/>
<path d="M481.2,336.2 C488.4,337.5 497.9,356.2 498.2,368.4 C498.2,378.7 491.8,385.0 481.2,385.0 C470.7,385.0 464.2,378.7 464.2,368.4 C464.6,356.2 474.1,337.5 481.2,336.2Z" fill="rgba(110,150,100,0.20)"/>
<polygon points="480.1,401.2 482.4,401.2 482.0,377.2 480.5,377.2" fill="rgba(150,118,104,0.5)"/>
<path d="M481.2,377.2 L479.2,364.0 M481.2,377.2 L489.4,361.6" stroke="rgba(150,118,104,0.5)" stroke-width="1.3" fill="none" stroke-linecap="round"/>
<path d="M480.9,378.7 L476.5,375.2" stroke="rgba(150,118,104,0.5)" stroke-width="0.9" fill="none" stroke-linecap="round"/>
<path d="M689.5,211.2 C696.6,212.4 706.2,230.7 706.5,242.6 C706.5,252.6 700.0,258.8 689.5,258.8 C679.0,258.8 672.5,252.6 672.5,242.6 C672.8,230.7 682.4,212.4 689.5,211.2Z" fill="rgb(220,221,220)" style="mix-blend-mode:multiply"/>
<path d="M689.5,211.2 C696.6,212.4 706.2,230.7 706.5,242.6 C706.5,252.6 700.0,258.8 689.5,258.8 C679.0,258.8 672.5,252.6 672.5,242.6 C672.8,230.7 682.4,212.4 689.5,211.2Z" fill="rgba(110,150,100,0.20)"/>
<polygon points="688.4,274.5 690.6,274.5 690.2,251.2 688.8,251.2" fill="rgba(150,118,104,0.5)"/>
<path d="M689.5,251.2 L687.5,238.3 M689.5,251.2 L697.7,235.9" stroke="rgba(150,118,104,0.5)" stroke-width="1.3" fill="none" stroke-linecap="round"/>
<path d="M689.2,252.6 L684.7,249.2" stroke="rgba(150,118,104,0.5)" stroke-width="0.9" fill="none" stroke-linecap="round"/>
<path d="M721.2,192.0 C730.5,193.5 742.8,217.3 743.2,232.8 C743.2,245.7 734.9,253.8 721.2,253.8 C707.6,253.8 699.2,245.7 699.2,232.8 C699.7,217.3 712.0,193.5 721.2,192.0Z" fill="rgb(209,211,211)" style="mix-blend-mode:multiply"/>
<path d="M721.2,192.0 C730.5,193.5 742.8,217.3 743.2,232.8 C743.2,245.7 734.9,253.8 721.2,253.8 C707.6,253.8 699.2,245.7 699.2,232.8 C699.7,217.3 712.0,193.5 721.2,192.0Z" fill="rgba(105,145,105,0.20)"/>
<polygon points="720.1,272.5 722.4,272.5 722.0,243.9 720.5,243.9" fill="rgba(150,118,104,0.5)"/>
<path d="M721.2,243.9 L718.6,227.2 M721.2,243.9 L731.8,224.1" stroke="rgba(150,118,104,0.5)" stroke-width="1.3" fill="none" stroke-linecap="round"/>
<path d="M721.0,245.7 L715.1,241.4" stroke="rgba(150,118,104,0.5)" stroke-width="0.9" fill="none" stroke-linecap="round"/>
<path d="M600.0,233.5 C606.8,234.7 615.9,253.4 616.2,265.5 C616.2,275.7 610.1,282.0 600.0,282.0 C589.9,282.0 583.8,275.7 583.8,265.5 C584.1,253.4 593.2,234.7 600.0,233.5Z" fill="rgb(220,221,220)" style="mix-blend-mode:multiply"/>
<path d="M600.0,233.5 C606.8,234.7 615.9,253.4 616.2,265.5 C616.2,275.7 610.1,282.0 600.0,282.0 C589.9,282.0 583.8,275.7 583.8,265.5 C584.1,253.4 593.2,234.7 600.0,233.5Z" fill="rgba(110,150,100,0.20)"/>
<polygon points="598.9,297.5 601.1,297.5 600.7,274.2 599.3,274.2" fill="rgba(150,118,104,0.5)"/>
<path d="M600.0,274.2 L598.0,261.1 M600.0,274.2 L607.8,258.7" stroke="rgba(150,118,104,0.5)" stroke-width="1.3" fill="none" stroke-linecap="round"/>
<path d="M599.7,275.7 L595.5,272.3" stroke="rgba(150,118,104,0.5)" stroke-width="0.9" fill="none" stroke-linecap="round"/>
<path d="M617.5,251.2 C624.3,252.5 633.4,271.2 633.8,283.4 C633.8,293.7 627.6,300.0 617.5,300.0 C607.4,300.0 601.2,293.7 601.2,283.4 C601.6,271.2 610.7,252.5 617.5,251.2Z" fill="rgb(220,221,220)" style="mix-blend-mode:multiply"/>
<path d="M617.5,251.2 C624.3,252.5 633.4,271.2 633.8,283.4 C633.8,293.7 627.6,300.0 617.5,300.0 C607.4,300.0 601.2,293.7 601.2,283.4 C601.6,271.2 610.7,252.5 617.5,251.2Z" fill="rgba(110,150,100,0.20)"/>
<polygon points="616.4,316.0 618.6,316.0 618.2,292.2 616.8,292.2" fill="rgba(150,118,104,0.5)"/>
<path d="M617.5,292.2 L615.5,279.0 M617.5,292.2 L625.3,276.6" stroke="rgba(150,118,104,0.5)" stroke-width="1.3" fill="none" stroke-linecap="round"/>
<path d="M617.2,293.7 L613.0,290.2" stroke="rgba(150,118,104,0.5)" stroke-width="0.9" fill="none" stroke-linecap="round"/>
<path d="M635.0,275.0 C642.1,276.2 651.7,294.5 652.0,306.4 C652.0,316.3 645.5,322.5 635.0,322.5 C624.5,322.5 618.0,316.3 618.0,306.4 C618.3,294.5 627.9,276.2 635.0,275.0Z" fill="rgb(220,221,220)" style="mix-blend-mode:multiply"/>
<path d="M635.0,275.0 C642.1,276.2 651.7,294.5 652.0,306.4 C652.0,316.3 645.5,322.5 635.0,322.5 C624.5,322.5 618.0,316.3 618.0,306.4 C618.3,294.5 627.9,276.2 635.0,275.0Z" fill="rgba(110,150,100,0.20)"/>
<polygon points="633.9,340.0 636.1,340.0 635.7,314.9 634.3,314.9" fill="rgba(150,118,104,0.5)"/>
<path d="M635.0,314.9 L633.0,302.1 M635.0,314.9 L643.2,299.7" stroke="rgba(150,118,104,0.5)" stroke-width="1.3" fill="none" stroke-linecap="round"/>
<path d="M634.7,316.3 L630.2,313.0" stroke="rgba(150,118,104,0.5)" stroke-width="0.9" fill="none" stroke-linecap="round"/>
<path d="M617.7,309.3 C633.2,309.3 641.2,329.3 641.2,349.3 C641.2,366.7 632.3,376.0 617.7,376.0 C603.1,376.0 594.2,366.7 594.2,349.3 C594.2,329.3 602.2,309.3 617.7,309.3Z" fill="rgb(210,221,192)" style="mix-blend-mode:multiply"/>
<path d="M617.7,309.3 C633.2,309.3 641.2,329.3 641.2,349.3 C641.2,366.7 632.3,376.0 617.7,376.0 C603.1,376.0 594.2,366.7 594.2,349.3 C594.2,329.3 602.2,309.3 617.7,309.3Z" fill="rgba(120,150,65,0.20)"/>
<polygon points="616.6,390.0 618.9,390.0 618.4,365.3 617.0,365.3" fill="rgba(120,80,70,0.6)"/>
<path d="M617.7,365.3 L614.9,347.3 M617.7,365.3 L629.0,344.0" stroke="rgba(120,80,70,0.6)" stroke-width="1.3" fill="none" stroke-linecap="round"/>
<path d="M617.4,367.3 L611.1,362.7" stroke="rgba(120,80,70,0.6)" stroke-width="0.9" fill="none" stroke-linecap="round"/>
<path d="M704.7,336.7 C711.4,337.9 720.4,356.9 720.7,369.2 C720.7,379.6 714.6,386.0 704.7,386.0 C694.8,386.0 688.7,379.6 688.7,369.2 C689.0,356.9 698.0,337.9 704.7,336.7Z" fill="rgb(220,221,220)" style="mix-blend-mode:multiply"/>
<path d="M704.7,336.7 C711.4,337.9 720.4,356.9 720.7,369.2 C720.7,379.6 714.6,386.0 704.7,386.0 C694.8,386.0 688.7,379.6 688.7,369.2 C689.0,356.9 698.0,337.9 704.7,336.7Z" fill="rgba(110,150,100,0.20)"/>
<polygon points="703.6,402.0 705.9,402.0 705.4,378.1 704.0,378.1" fill="rgba(150,118,104,0.5)"/>
<path d="M704.7,378.1 L702.8,364.8 M704.7,378.1 L712.4,362.3" stroke="rgba(150,118,104,0.5)" stroke-width="1.3" fill="none" stroke-linecap="round"/>
<path d="M704.4,379.6 L700.2,376.1" stroke="rgba(150,118,104,0.5)" stroke-width="0.9" fill="none" stroke-linecap="round"/>
<path d="M721.6,356.0 C728.3,357.2 737.3,376.0 737.6,388.1 C737.6,398.4 731.5,404.7 721.6,404.7 C711.7,404.7 705.6,398.4 705.6,388.1 C705.9,376.0 714.9,357.2 721.6,356.0Z" fill="rgb(220,221,220)" style="mix-blend-mode:multiply"/>
<path d="M721.6,356.0 C728.3,357.2 737.3,376.0 737.6,388.1 C737.6,398.4 731.5,404.7 721.6,404.7 C711.7,404.7 705.6,398.4 705.6,388.1 C705.9,376.0 714.9,357.2 721.6,356.0Z" fill="rgba(110,150,100,0.20)"/>
<polygon points="720.5,420.7 722.8,420.7 722.3,396.9 720.9,396.9" fill="rgba(150,118,104,0.5)"/>
<path d="M721.6,396.9 L719.7,383.8 M721.6,396.9 L729.3,381.3" stroke="rgba(150,118,104,0.5)" stroke-width="1.3" fill="none" stroke-linecap="round"/>
<path d="M721.3,398.4 L717.1,395.0" stroke="rgba(150,118,104,0.5)" stroke-width="0.9" fill="none" stroke-linecap="round"/>
<path d="M739.3,379.3 C746.2,380.5 755.3,399.3 755.6,411.4 C755.6,421.7 749.4,428.0 739.3,428.0 C729.2,428.0 722.9,421.7 722.9,411.4 C723.3,399.3 732.4,380.5 739.3,379.3Z" fill="rgb(220,221,220)" style="mix-blend-mode:multiply"/>
<path d="M739.3,379.3 C746.2,380.5 755.3,399.3 755.6,411.4 C755.6,421.7 749.4,428.0 739.3,428.0 C729.2,428.0 722.9,421.7 722.9,411.4 C723.3,399.3 732.4,380.5 739.3,379.3Z" fill="rgba(110,150,100,0.20)"/>
<polygon points="738.1,442.7 740.4,442.7 740.0,420.2 738.6,420.2" fill="rgba(150,118,104,0.5)"/>
<path d="M739.3,420.2 L737.3,407.1 M739.3,420.2 L747.1,404.6" stroke="rgba(150,118,104,0.5)" stroke-width="1.3" fill="none" stroke-linecap="round"/>
<path d="M739.0,421.7 L734.7,418.3" stroke="rgba(150,118,104,0.5)" stroke-width="0.9" fill="none" stroke-linecap="round"/>
<path d="M828.0,460.0 C834.8,461.2 843.9,479.7 844.2,491.7 C844.2,501.8 838.1,508.0 828.0,508.0 C817.9,508.0 811.8,501.8 811.8,491.7 C812.1,479.7 821.2,461.2 828.0,460.0Z" fill="rgb(220,221,220)" style="mix-blend-mode:multiply"/>
<path d="M828.0,460.0 C834.8,461.2 843.9,479.7 844.2,491.7 C844.2,501.8 838.1,508.0 828.0,508.0 C817.9,508.0 811.8,501.8 811.8,491.7 C812.1,479.7 821.2,461.2 828.0,460.0Z" fill="rgba(110,150,100,0.20)"/>
<polygon points="826.9,524.0 829.1,524.0 828.7,500.3 827.3,500.3" fill="rgba(150,118,104,0.5)"/>
<path d="M828.0,500.3 L826.0,487.4 M828.0,500.3 L835.8,485.0" stroke="rgba(150,118,104,0.5)" stroke-width="1.3" fill="none" stroke-linecap="round"/>
<path d="M827.7,501.8 L823.5,498.4" stroke="rgba(150,118,104,0.5)" stroke-width="0.9" fill="none" stroke-linecap="round"/>
<path d="M845.0,479.0 C851.8,480.2 860.9,498.9 861.2,511.0 C861.2,521.2 855.1,527.5 845.0,527.5 C834.9,527.5 828.8,521.2 828.8,511.0 C829.1,498.9 838.2,480.2 845.0,479.0Z" fill="rgb(220,221,220)" style="mix-blend-mode:multiply"/>
<path d="M845.0,479.0 C851.8,480.2 860.9,498.9 861.2,511.0 C861.2,521.2 855.1,527.5 845.0,527.5 C834.9,527.5 828.8,521.2 828.8,511.0 C829.1,498.9 838.2,480.2 845.0,479.0Z" fill="rgba(110,150,100,0.20)"/>
<polygon points="843.9,543.0 846.1,543.0 845.7,519.7 844.3,519.7" fill="rgba(150,118,104,0.5)"/>
<path d="M845.0,519.7 L843.0,506.6 M845.0,519.7 L852.8,504.2" stroke="rgba(150,118,104,0.5)" stroke-width="1.3" fill="none" stroke-linecap="round"/>
<path d="M844.7,521.2 L840.5,517.8" stroke="rgba(150,118,104,0.5)" stroke-width="0.9" fill="none" stroke-linecap="round"/>
<path d="M862.5,503.0 C869.4,504.2 878.7,522.7 879.0,534.7 C879.0,544.8 872.7,551.0 862.5,551.0 C852.3,551.0 846.0,544.8 846.0,534.7 C846.3,522.7 855.6,504.2 862.5,503.0Z" fill="rgb(220,221,220)" style="mix-blend-mode:multiply"/>
<path d="M862.5,503.0 C869.4,504.2 878.7,522.7 879.0,534.7 C879.0,544.8 872.7,551.0 862.5,551.0 C852.3,551.0 846.0,544.8 846.0,534.7 C846.3,522.7 855.6,504.2 862.5,503.0Z" fill="rgba(110,150,100,0.20)"/>
<polygon points="861.4,566.7 863.6,566.7 863.2,543.3 861.8,543.3" fill="rgba(150,118,104,0.5)"/>
<path d="M862.5,543.3 L860.5,530.4 M862.5,543.3 L870.4,528.0" stroke="rgba(150,118,104,0.5)" stroke-width="1.3" fill="none" stroke-linecap="round"/>
<path d="M862.2,544.8 L857.9,541.4" stroke="rgba(150,118,104,0.5)" stroke-width="0.9" fill="none" stroke-linecap="round"/>
<path d="M546.2,445.5 C557.5,445.5 563.2,463.4 563.2,481.2 C563.2,496.7 556.8,505.0 546.2,505.0 C535.7,505.0 529.2,496.7 529.2,481.2 C529.2,463.4 535.0,445.5 546.2,445.5Z" fill="rgb(236,238,210)" style="mix-blend-mode:multiply"/>
<path d="M546.2,445.5 C557.5,445.5 563.2,463.4 563.2,481.2 C563.2,496.7 556.8,505.0 546.2,505.0 C535.7,505.0 529.2,496.7 529.2,481.2 C529.2,463.4 535.0,445.5 546.2,445.5Z" fill="rgba(190,180,80,0.20)"/>
<polygon points="545.1,518.8 547.4,518.8 547.0,495.5 545.5,495.5" fill="rgba(115,105,60,0.7)"/>
<path d="M546.2,495.5 L544.2,479.4 M546.2,495.5 L554.4,476.4" stroke="rgba(115,105,60,0.7)" stroke-width="1.3" fill="none" stroke-linecap="round"/>
<path d="M546.0,497.3 L541.5,493.1" stroke="rgba(115,105,60,0.7)" stroke-width="0.9" fill="none" stroke-linecap="round"/>
<path d="M585.8,460.5 C599.9,460.5 607.2,474.7 607.2,488.9 C607.2,501.2 599.1,507.8 585.8,507.8 C572.4,507.8 564.2,501.2 564.2,488.9 C564.2,474.7 571.6,460.5 585.8,460.5Z" fill="rgb(200,209,201)" style="mix-blend-mode:multiply"/>
<path d="M585.8,460.5 C599.9,460.5 607.2,474.7 607.2,488.9 C607.2,501.2 599.1,507.8 585.8,507.8 C572.4,507.8 564.2,501.2 564.2,488.9 C564.2,474.7 571.6,460.5 585.8,460.5Z" fill="rgba(100,145,100,0.20)"/>
<polygon points="584.6,522.0 586.9,522.0 586.5,500.2 585.0,500.2" fill="rgba(150,115,100,0.5)"/>
<path d="M585.8,500.2 L583.2,487.5 M585.8,500.2 L596.1,485.1" stroke="rgba(150,115,100,0.5)" stroke-width="1.3" fill="none" stroke-linecap="round"/>
<path d="M585.5,501.7 L579.7,498.3" stroke="rgba(150,115,100,0.5)" stroke-width="0.9" fill="none" stroke-linecap="round"/>
<path d="M510.8,479.5 C526.3,479.5 534.3,499.8 534.3,520.0 C534.3,537.5 525.4,547.0 510.8,547.0 C496.2,547.0 487.3,537.5 487.3,520.0 C487.3,499.8 495.3,479.5 510.8,479.5Z" fill="rgb(209,216,182)" style="mix-blend-mode:multiply"/>
<path d="M510.8,479.5 C526.3,479.5 534.3,499.8 534.3,520.0 C534.3,537.5 525.4,547.0 510.8,547.0 C496.2,547.0 487.3,537.5 487.3,520.0 C487.3,499.8 495.3,479.5 510.8,479.5Z" fill="rgba(125,145,60,0.20)"/>
<polygon points="509.7,560.0 511.9,560.0 511.5,536.2 510.1,536.2" fill="rgba(115,105,60,0.7)"/>
<path d="M510.8,536.2 L508.0,518.0 M510.8,536.2 L522.1,514.6" stroke="rgba(115,105,60,0.7)" stroke-width="1.3" fill="none" stroke-linecap="round"/>
<path d="M510.5,538.2 L504.2,533.5" stroke="rgba(115,105,60,0.7)" stroke-width="0.9" fill="none" stroke-linecap="round"/>
<path d="M508.6,640.0 C515.9,641.2 525.6,660.1 525.9,672.3 C525.9,682.6 519.3,689.0 508.6,689.0 C497.9,689.0 491.3,682.6 491.3,672.3 C491.6,660.1 501.3,641.2 508.6,640.0Z" fill="rgb(225,226,230)" style="mix-blend-mode:multiply"/>
<path d="M508.6,640.0 C515.9,641.2 525.6,660.1 525.9,672.3 C525.9,682.6 519.3,689.0 508.6,689.0 C497.9,689.0 491.3,682.6 491.3,672.3 C491.6,660.1 501.3,641.2 508.6,640.0Z" fill="rgba(110,150,105,0.20)"/>
<polygon points="507.5,705.0 509.8,705.0 509.3,681.2 507.9,681.2" fill="rgba(175,145,130,0.5)"/>
<path d="M508.6,681.2 L506.5,667.9 M508.6,681.2 L516.9,665.5" stroke="rgba(175,145,130,0.5)" stroke-width="1.3" fill="none" stroke-linecap="round"/>
<path d="M508.3,682.6 L503.8,679.2" stroke="rgba(175,145,130,0.5)" stroke-width="0.9" fill="none" stroke-linecap="round"/>
<path d="M542.4,611.6 C551.9,613.2 564.4,637.2 564.9,652.8 C564.9,665.9 556.4,674.0 542.4,674.0 C528.4,674.0 519.9,665.9 519.9,652.8 C520.4,637.2 532.9,613.2 542.4,611.6Z" fill="rgb(225,226,230)" style="mix-blend-mode:multiply"/>
<path d="M542.4,611.6 C551.9,613.2 564.4,637.2 564.9,652.8 C564.9,665.9 556.4,674.0 542.4,674.0 C528.4,674.0 519.9,665.9 519.9,652.8 C520.4,637.2 532.9,613.2 542.4,611.6Z" fill="rgba(110,150,105,0.20)"/>
<polygon points="541.2,693.6 543.5,693.6 543.1,664.0 541.7,664.0" fill="rgba(175,145,130,0.5)"/>
<path d="M542.4,664.0 L539.7,647.2 M542.4,664.0 L553.2,644.0" stroke="rgba(175,145,130,0.5)" stroke-width="1.3" fill="none" stroke-linecap="round"/>
<path d="M542.1,665.9 L536.1,661.5" stroke="rgba(175,145,130,0.5)" stroke-width="0.9" fill="none" stroke-linecap="round"/>
<path d="M570.0,615.6 C577.1,616.8 586.5,635.6 586.8,647.8 C586.8,658.1 580.4,664.4 570.0,664.4 C559.6,664.4 553.2,658.1 553.2,647.8 C553.5,635.6 562.9,616.8 570.0,615.6Z" fill="rgb(225,226,230)" style="mix-blend-mode:multiply"/>
<path d="M570.0,615.6 C577.1,616.8 586.5,635.6 586.8,647.8 C586.8,658.1 580.4,664.4 570.0,664.4 C559.6,664.4 553.2,658.1 553.2,647.8 C553.5,635.6 562.9,616.8 570.0,615.6Z" fill="rgba(110,150,105,0.20)"/>
<polygon points="568.9,680.0 571.1,680.0 570.7,656.6 569.3,656.6" fill="rgba(175,145,130,0.5)"/>
<path d="M570.0,656.6 L568.0,643.4 M570.0,656.6 L578.1,641.0" stroke="rgba(175,145,130,0.5)" stroke-width="1.3" fill="none" stroke-linecap="round"/>
<path d="M569.7,658.1 L565.3,654.6" stroke="rgba(175,145,130,0.5)" stroke-width="0.9" fill="none" stroke-linecap="round"/>
<path d="M622.0,590.0 C629.1,591.2 638.7,610.1 639.0,622.3 C639.0,632.6 632.5,639.0 622.0,639.0 C611.5,639.0 605.0,632.6 605.0,622.3 C605.3,610.1 614.9,591.2 622.0,590.0Z" fill="rgb(225,226,230)" style="mix-blend-mode:multiply"/>
<path d="M622.0,590.0 C629.1,591.2 638.7,610.1 639.0,622.3 C639.0,632.6 632.5,639.0 622.0,639.0 C611.5,639.0 605.0,632.6 605.0,622.3 C605.3,610.1 614.9,591.2 622.0,590.0Z" fill="rgba(110,150,105,0.20)"/>
<polygon points="620.9,655.0 623.1,655.0 622.7,631.2 621.3,631.2" fill="rgba(175,145,130,0.5)"/>
<path d="M622.0,631.2 L620.0,617.9 M622.0,631.2 L630.2,615.5" stroke="rgba(175,145,130,0.5)" stroke-width="1.3" fill="none" stroke-linecap="round"/>
<path d="M621.7,632.6 L617.2,629.2" stroke="rgba(175,145,130,0.5)" stroke-width="0.9" fill="none" stroke-linecap="round"/>
<path d="M658.6,566.0 C667.8,567.6 680.2,591.8 680.6,607.6 C680.6,620.8 672.2,629.0 658.6,629.0 C645.0,629.0 636.6,620.8 636.6,607.6 C637.0,591.8 649.4,567.6 658.6,566.0Z" fill="rgb(225,226,230)" style="mix-blend-mode:multiply"/>
<path d="M658.6,566.0 C667.8,567.6 680.2,591.8 680.6,607.6 C680.6,620.8 672.2,629.0 658.6,629.0 C645.0,629.0 636.6,620.8 636.6,607.6 C637.0,591.8 649.4,567.6 658.6,566.0Z" fill="rgba(110,150,105,0.20)"/>
<polygon points="657.5,648.0 659.8,648.0 659.3,618.9 657.9,618.9" fill="rgba(175,145,130,0.5)"/>
<path d="M658.6,618.9 L656.0,601.9 M658.6,618.9 L669.2,598.8" stroke="rgba(175,145,130,0.5)" stroke-width="1.3" fill="none" stroke-linecap="round"/>
<path d="M658.3,620.8 L652.4,616.4" stroke="rgba(175,145,130,0.5)" stroke-width="0.9" fill="none" stroke-linecap="round"/>
<path d="M680.0,572.0 C687.1,573.0 696.7,589.2 697.0,599.7 C697.0,608.5 690.5,614.0 680.0,614.0 C669.5,614.0 663.0,608.5 663.0,599.7 C663.3,589.2 672.9,573.0 680.0,572.0Z" fill="rgb(225,226,230)" style="mix-blend-mode:multiply"/>
<path d="M680.0,572.0 C687.1,573.0 696.7,589.2 697.0,599.7 C697.0,608.5 690.5,614.0 680.0,614.0 C669.5,614.0 663.0,608.5 663.0,599.7 C663.3,589.2 672.9,573.0 680.0,572.0Z" fill="rgba(110,150,105,0.20)"/>
<polygon points="678.9,630.0 681.1,630.0 680.7,607.3 679.3,607.3" fill="rgba(175,145,130,0.5)"/>
<path d="M680.0,607.3 L678.0,595.9 M680.0,607.3 L688.2,593.8" stroke="rgba(175,145,130,0.5)" stroke-width="1.3" fill="none" stroke-linecap="round"/>
<path d="M679.7,608.5 L675.2,605.6" stroke="rgba(175,145,130,0.5)" stroke-width="0.9" fill="none" stroke-linecap="round"/>
<path d="M355.0,576.0 C364.7,577.5 377.5,600.6 378.0,615.6 C378.0,628.2 369.3,636.0 355.0,636.0 C340.7,636.0 332.0,628.2 332.0,615.6 C332.5,600.6 345.3,577.5 355.0,576.0Z" fill="rgb(225,226,230)" style="mix-blend-mode:multiply"/>
<path d="M355.0,576.0 C364.7,577.5 377.5,600.6 378.0,615.6 C378.0,628.2 369.3,636.0 355.0,636.0 C340.7,636.0 332.0,628.2 332.0,615.6 C332.5,600.6 345.3,577.5 355.0,576.0Z" fill="rgba(110,150,105,0.20)"/>
<polygon points="353.9,656.0 356.1,656.0 355.7,626.4 354.3,626.4" fill="rgba(175,145,130,0.5)"/>
<path d="M355.0,626.4 L352.2,610.2 M355.0,626.4 L366.0,607.2" stroke="rgba(175,145,130,0.5)" stroke-width="1.3" fill="none" stroke-linecap="round"/>
<path d="M354.7,628.2 L348.6,624.0" stroke="rgba(175,145,130,0.5)" stroke-width="0.9" fill="none" stroke-linecap="round"/>
<path d="M385.8,558.8 C395.0,560.2 407.3,583.4 407.8,598.4 C407.8,611.0 399.4,618.8 385.8,618.8 C372.1,618.8 363.8,611.0 363.8,598.4 C364.2,583.4 376.5,560.2 385.8,558.8Z" fill="rgb(225,226,230)" style="mix-blend-mode:multiply"/>
<path d="M385.8,558.8 C395.0,560.2 407.3,583.4 407.8,598.4 C407.8,611.0 399.4,618.8 385.8,618.8 C372.1,618.8 363.8,611.0 363.8,598.4 C364.2,583.4 376.5,560.2 385.8,558.8Z" fill="rgba(110,150,105,0.20)"/>
<polygon points="384.6,638.8 386.9,638.8 386.5,609.1 385.0,609.1" fill="rgba(175,145,130,0.5)"/>
<path d="M385.8,609.1 L383.1,593.0 M385.8,609.1 L396.3,590.0" stroke="rgba(175,145,130,0.5)" stroke-width="1.3" fill="none" stroke-linecap="round"/>
<path d="M385.4,610.9 L379.6,606.8" stroke="rgba(175,145,130,0.5)" stroke-width="0.9" fill="none" stroke-linecap="round"/>
<path d="M400.0,607.5 C407.1,608.7 416.7,627.0 417.0,638.9 C417.0,648.8 410.5,655.0 400.0,655.0 C389.5,655.0 383.0,648.8 383.0,638.9 C383.3,627.0 392.9,608.7 400.0,607.5Z" fill="rgb(225,226,230)" style="mix-blend-mode:multiply"/>
<path d="M400.0,607.5 C407.1,608.7 416.7,627.0 417.0,638.9 C417.0,648.8 410.5,655.0 400.0,655.0 C389.5,655.0 383.0,648.8 383.0,638.9 C383.3,627.0 392.9,608.7 400.0,607.5Z" fill="rgba(110,150,105,0.20)"/>
<polygon points="398.9,671.0 401.1,671.0 400.7,647.4 399.3,647.4" fill="rgba(175,145,130,0.5)"/>
<path d="M400.0,647.4 L398.0,634.6 M400.0,647.4 L408.2,632.2" stroke="rgba(175,145,130,0.5)" stroke-width="1.3" fill="none" stroke-linecap="round"/>
<path d="M399.7,648.8 L395.2,645.5" stroke="rgba(175,145,130,0.5)" stroke-width="0.9" fill="none" stroke-linecap="round"/>
<line x1="470.90" y1="95.0" x2="470.90" y2="255.5" stroke="#262626" stroke-width="1.45"/>
<line x1="915.00" y1="283.5" x2="915.00" y2="466.3" stroke="#262626" stroke-width="1.45"/>
<line x1="322.50" y1="558.8" x2="322.50" y2="728.5" stroke="#262626" stroke-width="1.45"/>
<line x1="408.60" y1="552.5" x2="408.60" y2="792.5" stroke="#262626" stroke-width="1.45"/>
<line x1="941.40" y1="567.5" x2="941.40" y2="680.0" stroke="#262626" stroke-width="1.45"/>
<text x="348.8" y="107.2" class="t" text-anchor="start" textLength="108.7" lengthAdjust="spacingAndGlyphs">BESTANDSGEBÄUDE</text>
<text x="336.2" y="130.0" class="b" text-anchor="start" textLength="121.1" lengthAdjust="spacingAndGlyphs">Erhalt Bestandsbebauung |</text>
<text x="396.2" y="141.6" class="b" text-anchor="start" textLength="61.1" lengthAdjust="spacingAndGlyphs">Aufstockung |</text>
<text x="246.2" y="153.3" class="b" text-anchor="start" textLength="211.1" lengthAdjust="spacingAndGlyphs">bautechnische und energetische Ertüchtigung |</text>
<text x="355.0" y="164.9" class="b" text-anchor="start" textLength="102.3" lengthAdjust="spacingAndGlyphs">barrierefreier Zugang |</text>
<text x="188.8" y="176.5" class="b" text-anchor="start" textLength="268.6" lengthAdjust="spacingAndGlyphs">vorgelagerte, selbsttragende und begrünte Balkonstruktur |</text>
<text x="353.8" y="188.2" class="b" text-anchor="start" textLength="103.6" lengthAdjust="spacingAndGlyphs">Grundrissoptimierung |</text>
<text x="935.0" y="290.2" class="t" text-anchor="start" textLength="88.3" lengthAdjust="spacingAndGlyphs">PUNKTGEBÄUDE</text>
<text x="935.0" y="301.4" class="s" text-anchor="start" textLength="23.8" lengthAdjust="spacingAndGlyphs">TYP 1</text>
<text x="935.0" y="325.0" class="b" text-anchor="start" textLength="236.3" lengthAdjust="spacingAndGlyphs">| zweiseitig belichtete Loggien an den Gebäudeecken</text>
<text x="935.0" y="336.7" class="b" text-anchor="start" textLength="174.5" lengthAdjust="spacingAndGlyphs">| Wohnnutzung &amp; Sondernutzung im EG</text>
<text x="935.0" y="348.5" class="b" text-anchor="start" textLength="200.5" lengthAdjust="spacingAndGlyphs">| Ankerpunkt und identitätsstiftende Wirkung</text>
<text x="177.5" y="643.8" class="t" text-anchor="start" textLength="130.5" lengthAdjust="spacingAndGlyphs">MODULARER ZEILENTYP</text>
<text x="287.0" y="655.6" class="s" text-anchor="start" textLength="21.0" lengthAdjust="spacingAndGlyphs">TYP2</text>
<text x="212.5" y="678.6" class="b" text-anchor="start" textLength="95.2" lengthAdjust="spacingAndGlyphs">Holzhybridbauweise |</text>
<text x="158.8" y="690.2" class="b" text-anchor="start" textLength="148.9" lengthAdjust="spacingAndGlyphs">modular &amp; ressourcenschonend |</text>
<text x="270.0" y="701.8" class="b" text-anchor="start" textLength="37.7" lengthAdjust="spacingAndGlyphs">flexibel |</text>
<text x="39.5" y="713.4" class="b" text-anchor="start" textLength="268.2" lengthAdjust="spacingAndGlyphs">vorgelagerte, selbsttragende und begrünte Balkonstruktur |</text>
<text x="112.0" y="725.0" class="b" text-anchor="start" textLength="195.7" lengthAdjust="spacingAndGlyphs">kleinteilige, lebendige Fassadengestaltung |</text>
<text x="427.5" y="719.6" class="t" text-anchor="start" textLength="93.8" lengthAdjust="spacingAndGlyphs">WINKELGEBÄUDE</text>
<text x="427.5" y="730.8" class="s" text-anchor="start" textLength="20.8" lengthAdjust="spacingAndGlyphs">TYP3</text>
<text x="427.5" y="754.5" class="b" text-anchor="start" textLength="95.5" lengthAdjust="spacingAndGlyphs">| Holzhybridbauweise</text>
<text x="427.5" y="766.1" class="b" text-anchor="start" textLength="268.0" lengthAdjust="spacingAndGlyphs">| vorgelagerte, selbsttragende und begrünte Balkonstruktur</text>
<text x="427.5" y="777.7" class="b" text-anchor="start" textLength="195.8" lengthAdjust="spacingAndGlyphs">| kleinteilige, lebendige Fassadengestaltung</text>
<text x="427.5" y="789.3" class="b" text-anchor="start" textLength="167.5" lengthAdjust="spacingAndGlyphs">| Nutzung der Fuge für Nebenanlagen</text>
<text x="958.8" y="580.6" class="t" text-anchor="start" textLength="105.0" lengthAdjust="spacingAndGlyphs">QUARTIERSGARAGE</text>
<text x="959.3" y="603.8" class="b" text-anchor="start" textLength="92.0" lengthAdjust="spacingAndGlyphs">| Split-Level-System</text>
<text x="959.3" y="615.5" class="b" text-anchor="start" textLength="78.7" lengthAdjust="spacingAndGlyphs">| Skelettbauweise</text>
<text x="959.3" y="627.1" class="b" text-anchor="start" textLength="59.5" lengthAdjust="spacingAndGlyphs">| Holzfassade</text>
<text x="959.3" y="638.8" class="b" text-anchor="start" textLength="95.7" lengthAdjust="spacingAndGlyphs">| Fassadenbegrünung</text>
<text x="959.3" y="650.5" class="b" text-anchor="start" textLength="57.7" lengthAdjust="spacingAndGlyphs">| Lärmschutz</text>
</svg></body></html>
